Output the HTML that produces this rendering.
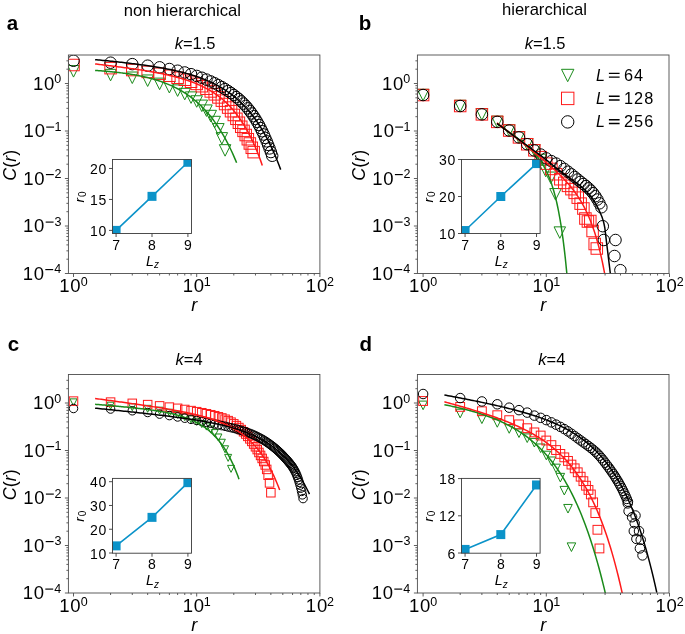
<!DOCTYPE html>
<html><head><meta charset="utf-8"><style>html,body{margin:0;padding:0;background:#fff;}svg{display:block;will-change:transform;}</style></head>
<body><svg width="685" height="634" viewBox="0 0 685 634" font-family='"Liberation Sans", sans-serif'><clipPath id="clipa"><rect x="68.40" y="55.00" width="251.50" height="218.50"/></clipPath>
<g clip-path="url(#clipa)">
<path d="M67.75,65.59H79.25L73.50,77.09Z" fill="none" stroke="#1a8a1a" stroke-width="1.0" stroke-linejoin="miter"/>
<path d="M104.84,69.35H116.34L110.59,80.85Z" fill="none" stroke="#1a8a1a" stroke-width="1.0" stroke-linejoin="miter"/>
<path d="M126.53,72.03H138.03L132.28,83.53Z" fill="none" stroke="#1a8a1a" stroke-width="1.0" stroke-linejoin="miter"/>
<path d="M141.92,74.96H153.42L147.67,86.46Z" fill="none" stroke="#1a8a1a" stroke-width="1.0" stroke-linejoin="miter"/>
<path d="M153.86,78.14H165.36L159.61,89.64Z" fill="none" stroke="#1a8a1a" stroke-width="1.0" stroke-linejoin="miter"/>
<path d="M163.62,81.47H175.12L169.37,92.97Z" fill="none" stroke="#1a8a1a" stroke-width="1.0" stroke-linejoin="miter"/>
<path d="M171.87,84.89H183.37L177.62,96.39Z" fill="none" stroke="#1a8a1a" stroke-width="1.0" stroke-linejoin="miter"/>
<path d="M179.01,88.34H190.51L184.76,99.84Z" fill="none" stroke="#1a8a1a" stroke-width="1.0" stroke-linejoin="miter"/>
<path d="M185.31,91.88H196.81L191.06,103.38Z" fill="none" stroke="#1a8a1a" stroke-width="1.0" stroke-linejoin="miter"/>
<path d="M190.95,95.75H202.45L196.70,107.25Z" fill="none" stroke="#1a8a1a" stroke-width="1.0" stroke-linejoin="miter"/>
<path d="M196.05,100.07H207.55L201.80,111.57Z" fill="none" stroke="#1a8a1a" stroke-width="1.0" stroke-linejoin="miter"/>
<path d="M200.71,104.92H212.21L206.46,116.42Z" fill="none" stroke="#1a8a1a" stroke-width="1.0" stroke-linejoin="miter"/>
<path d="M204.99,110.30H216.49L210.74,121.80Z" fill="none" stroke="#1a8a1a" stroke-width="1.0" stroke-linejoin="miter"/>
<path d="M208.95,116.30H220.45L214.70,127.80Z" fill="none" stroke="#1a8a1a" stroke-width="1.0" stroke-linejoin="miter"/>
<path d="M212.64,123.57H224.14L218.39,135.07Z" fill="none" stroke="#1a8a1a" stroke-width="1.0" stroke-linejoin="miter"/>
<path d="M216.10,132.62H227.60L221.85,144.12Z" fill="none" stroke="#1a8a1a" stroke-width="1.0" stroke-linejoin="miter"/>
<path d="M219.34,144.67H230.84L225.09,156.17Z" fill="none" stroke="#1a8a1a" stroke-width="1.0" stroke-linejoin="miter"/>
<rect x="67.75" y="59.26" width="11.50" height="11.50" fill="none" stroke="#ff1a1a" stroke-width="1.0"/>
<rect x="104.84" y="62.40" width="11.50" height="11.50" fill="none" stroke="#ff1a1a" stroke-width="1.0"/>
<rect x="126.53" y="64.29" width="11.50" height="11.50" fill="none" stroke="#ff1a1a" stroke-width="1.0"/>
<rect x="141.92" y="66.15" width="11.50" height="11.50" fill="none" stroke="#ff1a1a" stroke-width="1.0"/>
<rect x="153.86" y="68.06" width="11.50" height="11.50" fill="none" stroke="#ff1a1a" stroke-width="1.0"/>
<rect x="163.62" y="70.02" width="11.50" height="11.50" fill="none" stroke="#ff1a1a" stroke-width="1.0"/>
<rect x="171.87" y="72.00" width="11.50" height="11.50" fill="none" stroke="#ff1a1a" stroke-width="1.0"/>
<rect x="179.01" y="73.99" width="11.50" height="11.50" fill="none" stroke="#ff1a1a" stroke-width="1.0"/>
<rect x="185.31" y="76.01" width="11.50" height="11.50" fill="none" stroke="#ff1a1a" stroke-width="1.0"/>
<rect x="190.95" y="78.15" width="11.50" height="11.50" fill="none" stroke="#ff1a1a" stroke-width="1.0"/>
<rect x="196.05" y="80.46" width="11.50" height="11.50" fill="none" stroke="#ff1a1a" stroke-width="1.0"/>
<rect x="200.71" y="82.97" width="11.50" height="11.50" fill="none" stroke="#ff1a1a" stroke-width="1.0"/>
<rect x="204.99" y="85.68" width="11.50" height="11.50" fill="none" stroke="#ff1a1a" stroke-width="1.0"/>
<rect x="208.95" y="88.58" width="11.50" height="11.50" fill="none" stroke="#ff1a1a" stroke-width="1.0"/>
<rect x="212.64" y="91.65" width="11.50" height="11.50" fill="none" stroke="#ff1a1a" stroke-width="1.0"/>
<rect x="216.10" y="94.89" width="11.50" height="11.50" fill="none" stroke="#ff1a1a" stroke-width="1.0"/>
<rect x="219.34" y="98.28" width="11.50" height="11.50" fill="none" stroke="#ff1a1a" stroke-width="1.0"/>
<rect x="222.40" y="101.81" width="11.50" height="11.50" fill="none" stroke="#ff1a1a" stroke-width="1.0"/>
<rect x="225.29" y="105.45" width="11.50" height="11.50" fill="none" stroke="#ff1a1a" stroke-width="1.0"/>
<rect x="228.04" y="109.21" width="11.50" height="11.50" fill="none" stroke="#ff1a1a" stroke-width="1.0"/>
<rect x="230.65" y="113.06" width="11.50" height="11.50" fill="none" stroke="#ff1a1a" stroke-width="1.0"/>
<rect x="233.14" y="117.00" width="11.50" height="11.50" fill="none" stroke="#ff1a1a" stroke-width="1.0"/>
<rect x="235.51" y="121.02" width="11.50" height="11.50" fill="none" stroke="#ff1a1a" stroke-width="1.0"/>
<rect x="237.79" y="125.11" width="11.50" height="11.50" fill="none" stroke="#ff1a1a" stroke-width="1.0"/>
<rect x="239.98" y="129.27" width="11.50" height="11.50" fill="none" stroke="#ff1a1a" stroke-width="1.0"/>
<rect x="242.07" y="133.48" width="11.50" height="11.50" fill="none" stroke="#ff1a1a" stroke-width="1.0"/>
<rect x="244.09" y="137.74" width="11.50" height="11.50" fill="none" stroke="#ff1a1a" stroke-width="1.0"/>
<rect x="246.04" y="142.04" width="11.50" height="11.50" fill="none" stroke="#ff1a1a" stroke-width="1.0"/>
<rect x="247.92" y="146.39" width="11.50" height="11.50" fill="none" stroke="#ff1a1a" stroke-width="1.0"/>
<circle cx="73.50" cy="60.76" r="5.75" fill="none" stroke="#000000" stroke-width="1.0"/>
<circle cx="110.59" cy="62.70" r="5.75" fill="none" stroke="#000000" stroke-width="1.0"/>
<circle cx="132.28" cy="64.14" r="5.75" fill="none" stroke="#000000" stroke-width="1.0"/>
<circle cx="147.67" cy="65.68" r="5.75" fill="none" stroke="#000000" stroke-width="1.0"/>
<circle cx="159.61" cy="67.32" r="5.75" fill="none" stroke="#000000" stroke-width="1.0"/>
<circle cx="169.37" cy="69.01" r="5.75" fill="none" stroke="#000000" stroke-width="1.0"/>
<circle cx="177.62" cy="70.73" r="5.75" fill="none" stroke="#000000" stroke-width="1.0"/>
<circle cx="184.76" cy="72.46" r="5.75" fill="none" stroke="#000000" stroke-width="1.0"/>
<circle cx="191.06" cy="74.19" r="5.75" fill="none" stroke="#000000" stroke-width="1.0"/>
<circle cx="196.70" cy="75.95" r="5.75" fill="none" stroke="#000000" stroke-width="1.0"/>
<circle cx="201.80" cy="77.73" r="5.75" fill="none" stroke="#000000" stroke-width="1.0"/>
<circle cx="206.46" cy="79.55" r="5.75" fill="none" stroke="#000000" stroke-width="1.0"/>
<circle cx="210.74" cy="81.41" r="5.75" fill="none" stroke="#000000" stroke-width="1.0"/>
<circle cx="214.70" cy="83.29" r="5.75" fill="none" stroke="#000000" stroke-width="1.0"/>
<circle cx="218.39" cy="85.20" r="5.75" fill="none" stroke="#000000" stroke-width="1.0"/>
<circle cx="221.85" cy="87.14" r="5.75" fill="none" stroke="#000000" stroke-width="1.0"/>
<circle cx="225.09" cy="89.09" r="5.75" fill="none" stroke="#000000" stroke-width="1.0"/>
<circle cx="228.15" cy="91.06" r="5.75" fill="none" stroke="#000000" stroke-width="1.0"/>
<circle cx="231.04" cy="93.05" r="5.75" fill="none" stroke="#000000" stroke-width="1.0"/>
<circle cx="233.79" cy="95.05" r="5.75" fill="none" stroke="#000000" stroke-width="1.0"/>
<circle cx="236.40" cy="97.08" r="5.75" fill="none" stroke="#000000" stroke-width="1.0"/>
<circle cx="238.89" cy="99.17" r="5.75" fill="none" stroke="#000000" stroke-width="1.0"/>
<circle cx="241.26" cy="101.34" r="5.75" fill="none" stroke="#000000" stroke-width="1.0"/>
<circle cx="243.54" cy="103.58" r="5.75" fill="none" stroke="#000000" stroke-width="1.0"/>
<circle cx="245.73" cy="105.92" r="5.75" fill="none" stroke="#000000" stroke-width="1.0"/>
<circle cx="247.82" cy="108.35" r="5.75" fill="none" stroke="#000000" stroke-width="1.0"/>
<circle cx="249.84" cy="110.88" r="5.75" fill="none" stroke="#000000" stroke-width="1.0"/>
<circle cx="251.79" cy="113.51" r="5.75" fill="none" stroke="#000000" stroke-width="1.0"/>
<circle cx="253.67" cy="116.23" r="5.75" fill="none" stroke="#000000" stroke-width="1.0"/>
<circle cx="255.48" cy="119.05" r="5.75" fill="none" stroke="#000000" stroke-width="1.0"/>
<circle cx="257.24" cy="121.97" r="5.75" fill="none" stroke="#000000" stroke-width="1.0"/>
<circle cx="258.93" cy="124.98" r="5.75" fill="none" stroke="#000000" stroke-width="1.0"/>
<circle cx="260.58" cy="128.08" r="5.75" fill="none" stroke="#000000" stroke-width="1.0"/>
<circle cx="262.18" cy="131.26" r="5.75" fill="none" stroke="#000000" stroke-width="1.0"/>
<circle cx="263.73" cy="134.53" r="5.75" fill="none" stroke="#000000" stroke-width="1.0"/>
<circle cx="265.24" cy="137.89" r="5.75" fill="none" stroke="#000000" stroke-width="1.0"/>
<circle cx="266.70" cy="141.32" r="5.75" fill="none" stroke="#000000" stroke-width="1.0"/>
<circle cx="268.13" cy="144.83" r="5.75" fill="none" stroke="#000000" stroke-width="1.0"/>
<circle cx="269.52" cy="148.41" r="5.75" fill="none" stroke="#000000" stroke-width="1.0"/>
<circle cx="270.87" cy="152.06" r="5.75" fill="none" stroke="#000000" stroke-width="1.0"/>
<circle cx="272.19" cy="155.78" r="5.75" fill="none" stroke="#000000" stroke-width="1.0"/>
<polyline points="95.10,70.45 96.29,70.53 97.48,70.61 98.67,70.69 99.86,70.78 101.05,70.87 102.23,70.96 103.42,71.06 104.61,71.15 105.80,71.25 106.99,71.36 108.18,71.46 109.37,71.57 110.56,71.69 111.75,71.80 112.94,71.93 114.13,72.05 115.31,72.18 116.50,72.31 117.69,72.44 118.88,72.58 120.07,72.73 121.26,72.88 122.45,73.03 123.64,73.19 124.83,73.35 126.02,73.51 127.21,73.69 128.39,73.86 129.58,74.05 130.77,74.24 131.96,74.43 133.15,74.63 134.34,74.84 135.53,75.05 136.72,75.27 137.91,75.49 139.10,75.73 140.28,75.97 141.47,76.21 142.66,76.47 143.85,76.73 145.04,77.00 146.23,77.28 147.42,77.57 148.61,77.87 149.80,78.17 150.99,78.49 152.18,78.81 153.36,79.15 154.55,79.49 155.74,79.85 156.93,80.22 158.12,80.59 159.31,80.98 160.50,81.39 161.69,81.80 162.88,82.23 164.07,82.67 165.26,83.12 166.44,83.59 167.63,84.08 168.82,84.57 170.01,85.09 171.20,85.62 172.39,86.16 173.58,86.73 174.77,87.31 175.96,87.90 177.15,88.52 178.34,89.16 179.52,89.81 180.71,90.49 181.90,91.18 183.09,91.90 184.28,92.64 185.47,93.41 186.66,94.20 187.85,95.01 189.04,95.85 190.23,96.71 191.42,97.60 192.60,98.52 193.79,99.47 194.98,100.44 196.17,101.45 197.36,102.49 198.55,103.56 199.74,104.66 200.93,105.80 202.12,106.97 203.31,108.18 204.49,109.43 205.68,110.72 206.87,112.05 208.06,113.42 209.25,114.83 210.44,116.28 211.63,117.78 212.82,119.33 214.01,120.92 215.20,122.57 216.39,124.27 217.57,126.02 218.76,127.82 219.95,129.68 221.14,131.60 222.33,133.58 223.52,135.62 224.71,137.72 225.90,139.89 227.09,142.13 228.28,144.43 229.47,146.81 230.65,149.27 231.84,151.80 233.03,154.40 234.22,157.09 235.41,159.87 236.60,162.73" fill="none" stroke="#1a8a1a" stroke-width="1.5" stroke-linejoin="round"/>
<polyline points="95.10,63.95 96.51,64.11 97.91,64.28 99.32,64.45 100.72,64.62 102.13,64.79 103.53,64.96 104.94,65.13 106.34,65.30 107.75,65.48 109.15,65.65 110.56,65.83 111.96,66.00 113.37,66.18 114.77,66.36 116.18,66.54 117.58,66.72 118.99,66.91 120.39,67.09 121.80,67.28 123.20,67.46 124.61,67.65 126.01,67.85 127.42,68.04 128.82,68.23 130.23,68.43 131.63,68.63 133.04,68.83 134.44,69.04 135.85,69.24 137.25,69.45 138.66,69.67 140.06,69.88 141.47,70.10 142.87,70.32 144.28,70.55 145.68,70.78 147.09,71.01 148.49,71.24 149.90,71.48 151.30,71.73 152.71,71.98 154.11,72.23 155.52,72.49 156.92,72.75 158.33,73.02 159.73,73.30 161.14,73.58 162.54,73.86 163.95,74.16 165.35,74.46 166.76,74.77 168.16,75.08 169.57,75.40 170.97,75.73 172.38,76.07 173.78,76.42 175.19,76.78 176.59,77.15 178.00,77.53 179.40,77.92 180.81,78.32 182.21,78.73 183.62,79.16 185.02,79.60 186.43,80.05 187.83,80.52 189.24,81.00 190.64,81.50 192.05,82.02 193.45,82.55 194.86,83.10 196.26,83.67 197.67,84.26 199.07,84.88 200.48,85.51 201.88,86.17 203.29,86.85 204.69,87.56 206.10,88.30 207.50,89.06 208.91,89.85 210.31,90.68 211.72,91.53 213.12,92.42 214.53,93.35 215.93,94.31 217.34,95.32 218.74,96.36 220.15,97.45 221.55,98.58 222.96,99.76 224.36,100.99 225.77,102.27 227.17,103.61 228.58,105.00 229.98,106.46 231.39,107.98 232.79,109.56 234.20,111.21 235.60,112.94 237.01,114.74 238.41,116.62 239.82,118.58 241.22,120.64 242.63,122.78 244.03,125.02 245.44,127.36 246.84,129.81 248.25,132.37 249.65,135.05 251.06,137.84 252.46,140.77 253.87,143.83 255.27,147.03 256.68,150.37 258.08,153.88 259.49,157.54 260.89,161.38 262.30,165.39" fill="none" stroke="#ff1a1a" stroke-width="1.5" stroke-linejoin="round"/>
<polyline points="95.10,59.63 96.66,59.78 98.22,59.93 99.78,60.08 101.34,60.23 102.90,60.39 104.46,60.54 106.02,60.70 107.58,60.86 109.14,61.02 110.70,61.18 112.26,61.34 113.82,61.51 115.38,61.67 116.94,61.84 118.49,62.01 120.05,62.19 121.61,62.36 123.17,62.54 124.73,62.72 126.29,62.90 127.85,63.08 129.41,63.27 130.97,63.46 132.53,63.65 134.09,63.84 135.65,64.04 137.21,64.24 138.77,64.45 140.33,64.65 141.89,64.87 143.45,65.08 145.01,65.30 146.57,65.52 148.13,65.75 149.69,65.98 151.25,66.22 152.81,66.46 154.37,66.71 155.93,66.96 157.49,67.22 159.05,67.49 160.61,67.76 162.17,68.04 163.73,68.32 165.28,68.61 166.84,68.91 168.40,69.21 169.96,69.53 171.52,69.85 173.08,70.18 174.64,70.52 176.20,70.87 177.76,71.23 179.32,71.60 180.88,71.98 182.44,72.37 184.00,72.77 185.56,73.19 187.12,73.62 188.68,74.06 190.24,74.51 191.80,74.98 193.36,75.47 194.92,75.97 196.48,76.49 198.04,77.02 199.60,77.58 201.16,78.15 202.72,78.74 204.28,79.36 205.84,79.99 207.40,80.65 208.96,81.33 210.52,82.03 212.07,82.76 213.63,83.52 215.19,84.30 216.75,85.12 218.31,85.96 219.87,86.84 221.43,87.75 222.99,88.69 224.55,89.67 226.11,90.69 227.67,91.75 229.23,92.84 230.79,93.98 232.35,95.17 233.91,96.40 235.47,97.68 237.03,99.02 238.59,100.40 240.15,101.84 241.71,103.34 243.27,104.90 244.83,106.53 246.39,108.21 247.95,109.97 249.51,111.80 251.07,113.71 252.63,115.69 254.19,117.76 255.75,119.91 257.31,122.15 258.86,124.49 260.42,126.92 261.98,129.45 263.54,132.09 265.10,134.84 266.66,137.71 268.22,140.69 269.78,143.81 271.34,147.05 272.90,150.44 274.46,153.96 276.02,157.64 277.58,161.47 279.14,165.47 280.70,169.63" fill="none" stroke="#000000" stroke-width="1.5" stroke-linejoin="round"/>
</g>
<clipPath id="clipb"><rect x="417.40" y="55.00" width="251.60" height="218.50"/></clipPath>
<g clip-path="url(#clipb)">
<path d="M417.35,89.29H428.85L423.10,100.79Z" fill="none" stroke="#1a8a1a" stroke-width="1.0" stroke-linejoin="miter"/>
<path d="M454.44,100.25H465.94L460.19,111.75Z" fill="none" stroke="#1a8a1a" stroke-width="1.0" stroke-linejoin="miter"/>
<path d="M476.13,108.61H487.63L481.88,120.11Z" fill="none" stroke="#1a8a1a" stroke-width="1.0" stroke-linejoin="miter"/>
<path d="M491.52,116.11H503.02L497.27,127.61Z" fill="none" stroke="#1a8a1a" stroke-width="1.0" stroke-linejoin="miter"/>
<path d="M503.46,124.78H514.96L509.21,136.28Z" fill="none" stroke="#1a8a1a" stroke-width="1.0" stroke-linejoin="miter"/>
<path d="M513.22,131.63H524.72L518.97,143.13Z" fill="none" stroke="#1a8a1a" stroke-width="1.0" stroke-linejoin="miter"/>
<path d="M521.47,138.49H532.97L527.22,149.99Z" fill="none" stroke="#1a8a1a" stroke-width="1.0" stroke-linejoin="miter"/>
<path d="M528.61,144.61H540.11L534.36,156.11Z" fill="none" stroke="#1a8a1a" stroke-width="1.0" stroke-linejoin="miter"/>
<path d="M534.85,154.25H546.35L540.60,165.75Z" fill="none" stroke="#1a8a1a" stroke-width="1.0" stroke-linejoin="miter"/>
<path d="M539.95,165.25H551.45L545.70,176.75Z" fill="none" stroke="#1a8a1a" stroke-width="1.0" stroke-linejoin="miter"/>
<path d="M545.05,172.05H556.55L550.80,183.55Z" fill="none" stroke="#1a8a1a" stroke-width="1.0" stroke-linejoin="miter"/>
<path d="M549.75,188.55H561.25L555.50,200.05Z" fill="none" stroke="#1a8a1a" stroke-width="1.0" stroke-linejoin="miter"/>
<path d="M554.05,226.85H565.55L559.80,238.35Z" fill="none" stroke="#1a8a1a" stroke-width="1.0" stroke-linejoin="miter"/>
<rect x="417.35" y="89.29" width="11.50" height="11.50" fill="none" stroke="#ff1a1a" stroke-width="1.0"/>
<rect x="454.44" y="100.25" width="11.50" height="11.50" fill="none" stroke="#ff1a1a" stroke-width="1.0"/>
<rect x="476.13" y="108.61" width="11.50" height="11.50" fill="none" stroke="#ff1a1a" stroke-width="1.0"/>
<rect x="491.52" y="116.11" width="11.50" height="11.50" fill="none" stroke="#ff1a1a" stroke-width="1.0"/>
<rect x="503.46" y="124.78" width="11.50" height="11.50" fill="none" stroke="#ff1a1a" stroke-width="1.0"/>
<rect x="513.22" y="131.63" width="11.50" height="11.50" fill="none" stroke="#ff1a1a" stroke-width="1.0"/>
<rect x="521.47" y="138.49" width="11.50" height="11.50" fill="none" stroke="#ff1a1a" stroke-width="1.0"/>
<rect x="528.61" y="144.55" width="11.50" height="11.50" fill="none" stroke="#ff1a1a" stroke-width="1.0"/>
<rect x="534.91" y="151.41" width="11.50" height="11.50" fill="none" stroke="#ff1a1a" stroke-width="1.0"/>
<rect x="540.55" y="157.89" width="11.50" height="11.50" fill="none" stroke="#ff1a1a" stroke-width="1.0"/>
<rect x="545.65" y="163.17" width="11.50" height="11.50" fill="none" stroke="#ff1a1a" stroke-width="1.0"/>
<rect x="550.31" y="168.48" width="11.50" height="11.50" fill="none" stroke="#ff1a1a" stroke-width="1.0"/>
<rect x="554.59" y="173.46" width="11.50" height="11.50" fill="none" stroke="#ff1a1a" stroke-width="1.0"/>
<rect x="558.55" y="177.12" width="11.50" height="11.50" fill="none" stroke="#ff1a1a" stroke-width="1.0"/>
<rect x="562.24" y="180.11" width="11.50" height="11.50" fill="none" stroke="#ff1a1a" stroke-width="1.0"/>
<rect x="565.70" y="183.42" width="11.50" height="11.50" fill="none" stroke="#ff1a1a" stroke-width="1.0"/>
<rect x="568.94" y="187.12" width="11.50" height="11.50" fill="none" stroke="#ff1a1a" stroke-width="1.0"/>
<rect x="572.00" y="191.91" width="11.50" height="11.50" fill="none" stroke="#ff1a1a" stroke-width="1.0"/>
<rect x="574.89" y="197.89" width="11.50" height="11.50" fill="none" stroke="#ff1a1a" stroke-width="1.0"/>
<rect x="577.64" y="202.75" width="11.50" height="11.50" fill="none" stroke="#ff1a1a" stroke-width="1.0"/>
<rect x="579.65" y="212.75" width="11.50" height="11.50" fill="none" stroke="#ff1a1a" stroke-width="1.0"/>
<rect x="582.15" y="215.75" width="11.50" height="11.50" fill="none" stroke="#ff1a1a" stroke-width="1.0"/>
<rect x="584.55" y="215.25" width="11.50" height="11.50" fill="none" stroke="#ff1a1a" stroke-width="1.0"/>
<rect x="586.85" y="225.25" width="11.50" height="11.50" fill="none" stroke="#ff1a1a" stroke-width="1.0"/>
<rect x="588.95" y="238.25" width="11.50" height="11.50" fill="none" stroke="#ff1a1a" stroke-width="1.0"/>
<rect x="591.05" y="242.75" width="11.50" height="11.50" fill="none" stroke="#ff1a1a" stroke-width="1.0"/>
<circle cx="423.10" cy="95.04" r="5.75" fill="none" stroke="#000000" stroke-width="1.0"/>
<circle cx="460.19" cy="106.00" r="5.75" fill="none" stroke="#000000" stroke-width="1.0"/>
<circle cx="481.88" cy="114.36" r="5.75" fill="none" stroke="#000000" stroke-width="1.0"/>
<circle cx="497.27" cy="121.86" r="5.75" fill="none" stroke="#000000" stroke-width="1.0"/>
<circle cx="509.21" cy="130.53" r="5.75" fill="none" stroke="#000000" stroke-width="1.0"/>
<circle cx="518.97" cy="137.38" r="5.75" fill="none" stroke="#000000" stroke-width="1.0"/>
<circle cx="527.22" cy="144.24" r="5.75" fill="none" stroke="#000000" stroke-width="1.0"/>
<circle cx="534.36" cy="150.45" r="5.75" fill="none" stroke="#000000" stroke-width="1.0"/>
<circle cx="540.66" cy="154.54" r="5.75" fill="none" stroke="#000000" stroke-width="1.0"/>
<circle cx="546.30" cy="158.36" r="5.75" fill="none" stroke="#000000" stroke-width="1.0"/>
<circle cx="551.40" cy="161.13" r="5.75" fill="none" stroke="#000000" stroke-width="1.0"/>
<circle cx="556.06" cy="163.54" r="5.75" fill="none" stroke="#000000" stroke-width="1.0"/>
<circle cx="560.34" cy="166.13" r="5.75" fill="none" stroke="#000000" stroke-width="1.0"/>
<circle cx="564.30" cy="168.92" r="5.75" fill="none" stroke="#000000" stroke-width="1.0"/>
<circle cx="567.99" cy="171.71" r="5.75" fill="none" stroke="#000000" stroke-width="1.0"/>
<circle cx="571.45" cy="174.37" r="5.75" fill="none" stroke="#000000" stroke-width="1.0"/>
<circle cx="574.69" cy="177.00" r="5.75" fill="none" stroke="#000000" stroke-width="1.0"/>
<circle cx="577.75" cy="179.52" r="5.75" fill="none" stroke="#000000" stroke-width="1.0"/>
<circle cx="580.64" cy="181.87" r="5.75" fill="none" stroke="#000000" stroke-width="1.0"/>
<circle cx="583.39" cy="183.99" r="5.75" fill="none" stroke="#000000" stroke-width="1.0"/>
<circle cx="586.00" cy="186.08" r="5.75" fill="none" stroke="#000000" stroke-width="1.0"/>
<circle cx="588.49" cy="188.30" r="5.75" fill="none" stroke="#000000" stroke-width="1.0"/>
<circle cx="590.86" cy="190.62" r="5.75" fill="none" stroke="#000000" stroke-width="1.0"/>
<circle cx="593.14" cy="193.20" r="5.75" fill="none" stroke="#000000" stroke-width="1.0"/>
<circle cx="595.33" cy="196.18" r="5.75" fill="none" stroke="#000000" stroke-width="1.0"/>
<circle cx="597.42" cy="199.51" r="5.75" fill="none" stroke="#000000" stroke-width="1.0"/>
<circle cx="599.44" cy="203.32" r="5.75" fill="none" stroke="#000000" stroke-width="1.0"/>
<circle cx="601.39" cy="207.28" r="5.75" fill="none" stroke="#000000" stroke-width="1.0"/>
<circle cx="602.80" cy="226.20" r="5.75" fill="none" stroke="#000000" stroke-width="1.0"/>
<circle cx="603.80" cy="240.00" r="5.75" fill="none" stroke="#000000" stroke-width="1.0"/>
<circle cx="614.50" cy="256.00" r="5.75" fill="none" stroke="#000000" stroke-width="1.0"/>
<circle cx="615.50" cy="240.00" r="5.75" fill="none" stroke="#000000" stroke-width="1.0"/>
<circle cx="620.40" cy="270.20" r="5.75" fill="none" stroke="#000000" stroke-width="1.0"/>
<polyline points="497.00,123.61 497.59,124.02 498.18,124.42 498.76,124.83 499.35,125.24 499.94,125.65 500.53,126.05 501.12,126.46 501.71,126.87 502.29,127.28 502.88,127.69 503.47,128.10 504.06,128.52 504.65,128.93 505.24,129.34 505.82,129.76 506.41,130.17 507.00,130.59 507.59,131.01 508.18,131.43 508.76,131.85 509.35,132.27 509.94,132.69 510.53,133.11 511.12,133.54 511.71,133.96 512.29,134.39 512.88,134.82 513.47,135.25 514.06,135.69 514.65,136.12 515.24,136.56 515.82,137.00 516.41,137.44 517.00,137.89 517.59,138.33 518.18,138.78 518.76,139.24 519.35,139.69 519.94,140.15 520.53,140.62 521.12,141.08 521.71,141.55 522.29,142.03 522.88,142.51 523.47,142.99 524.06,143.48 524.65,143.98 525.24,144.48 525.82,144.98 526.41,145.50 527.00,146.02 527.59,146.54 528.18,147.08 528.76,147.62 529.35,148.17 529.94,148.73 530.53,149.29 531.12,149.87 531.71,150.46 532.29,151.06 532.88,151.67 533.47,152.30 534.06,152.93 534.65,153.58 535.24,154.25 535.82,154.93 536.41,155.63 537.00,156.34 537.59,157.08 538.18,157.83 538.76,158.60 539.35,159.40 539.94,160.22 540.53,161.06 541.12,161.93 541.71,162.83 542.29,163.76 542.88,164.71 543.47,165.71 544.06,166.73 544.65,167.79 545.24,168.89 545.82,170.04 546.41,171.22 547.00,172.45 547.59,173.73 548.18,175.06 548.76,176.45 549.35,177.90 549.94,179.40 550.53,180.97 551.12,182.61 551.71,184.32 552.29,186.11 552.88,187.98 553.47,189.94 554.06,191.99 554.65,194.13 555.24,196.38 555.82,198.73 556.41,201.20 557.00,203.79 557.59,206.51 558.18,209.37 558.76,212.37 559.35,215.52 559.94,218.84 560.53,222.32 561.12,225.99 561.71,229.84 562.29,233.90 562.88,238.18 563.47,242.68 564.06,247.42 564.65,252.41 565.24,257.68 565.82,263.23 566.41,269.08 567.00,275.26" fill="none" stroke="#1a8a1a" stroke-width="1.5" stroke-linejoin="round"/>
<polyline points="497.00,122.85 497.91,123.56 498.81,124.28 499.72,124.99 500.63,125.70 501.53,126.41 502.44,127.12 503.35,127.83 504.25,128.55 505.16,129.26 506.07,129.97 506.97,130.68 507.88,131.40 508.79,132.11 509.69,132.82 510.60,133.54 511.51,134.25 512.41,134.97 513.32,135.68 514.23,136.40 515.13,137.12 516.04,137.83 516.95,138.55 517.85,139.27 518.76,139.99 519.67,140.71 520.57,141.43 521.48,142.15 522.39,142.87 523.29,143.60 524.20,144.32 525.11,145.04 526.02,145.77 526.92,146.50 527.83,147.23 528.74,147.96 529.64,148.69 530.55,149.42 531.46,150.15 532.36,150.89 533.27,151.63 534.18,152.37 535.08,153.11 535.99,153.85 536.90,154.60 537.80,155.34 538.71,156.09 539.62,156.85 540.52,157.60 541.43,158.36 542.34,159.13 543.24,159.89 544.15,160.66 545.06,161.44 545.96,162.22 546.87,163.00 547.78,163.79 548.68,164.58 549.59,165.38 550.50,166.18 551.40,166.99 552.31,167.81 553.22,168.63 554.12,169.47 555.03,170.30 555.94,171.15 556.84,172.01 557.75,172.88 558.66,173.75 559.56,174.64 560.47,175.54 561.38,176.45 562.28,177.38 563.19,178.32 564.10,179.27 565.00,180.24 565.91,181.23 566.82,182.23 567.72,183.25 568.63,184.30 569.54,185.36 570.44,186.45 571.35,187.57 572.26,188.71 573.16,189.87 574.07,191.07 574.98,192.30 575.88,193.56 576.79,194.86 577.70,196.20 578.61,197.58 579.51,199.00 580.42,200.46 581.33,201.98 582.23,203.55 583.14,205.17 584.05,206.86 584.95,208.60 585.86,210.41 586.77,212.30 587.67,214.26 588.58,216.30 589.49,218.43 590.39,220.65 591.30,222.97 592.21,225.39 593.11,227.92 594.02,230.57 594.93,233.35 595.83,236.26 596.74,239.31 597.65,242.51 598.55,245.88 599.46,249.42 600.37,253.14 601.27,257.05 602.18,261.17 603.09,265.52 603.99,270.10 604.90,274.93" fill="none" stroke="#ff1a1a" stroke-width="1.5" stroke-linejoin="round"/>
<polyline points="497.00,123.40 497.95,124.10 498.91,124.81 499.86,125.51 500.82,126.22 501.77,126.92 502.72,127.63 503.68,128.33 504.63,129.04 505.58,129.74 506.54,130.45 507.49,131.15 508.45,131.86 509.40,132.56 510.35,133.27 511.31,133.97 512.26,134.68 513.21,135.38 514.17,136.09 515.12,136.79 516.08,137.50 517.03,138.20 517.98,138.91 518.94,139.61 519.89,140.32 520.84,141.02 521.80,141.73 522.75,142.43 523.71,143.13 524.66,143.82 525.61,144.52 526.57,145.22 527.52,145.91 528.47,146.61 529.43,147.30 530.38,148.00 531.34,148.69 532.29,149.39 533.24,150.09 534.20,150.79 535.15,151.49 536.11,152.20 537.06,152.90 538.01,153.61 538.97,154.32 539.92,155.03 540.87,155.75 541.83,156.47 542.78,157.20 543.74,157.93 544.69,158.66 545.64,159.40 546.60,160.15 547.55,160.91 548.50,161.68 549.46,162.45 550.41,163.23 551.37,164.00 552.32,164.78 553.27,165.56 554.23,166.33 555.18,167.10 556.13,167.85 557.09,168.60 558.04,169.34 559.00,170.07 559.95,170.79 560.90,171.51 561.86,172.22 562.81,172.93 563.76,173.64 564.72,174.34 565.67,175.04 566.63,175.75 567.58,176.45 568.53,177.16 569.49,177.87 570.44,178.58 571.39,179.28 572.35,179.97 573.30,180.64 574.26,181.32 575.21,181.99 576.16,182.66 577.12,183.35 578.07,184.05 579.03,184.77 579.98,185.51 580.93,186.28 581.89,187.09 582.84,187.94 583.79,188.82 584.75,189.72 585.70,190.66 586.66,191.64 587.61,192.65 588.56,193.71 589.52,194.82 590.47,195.98 591.42,197.20 592.38,198.47 593.33,199.82 594.29,201.27 595.24,202.84 596.19,204.52 597.15,206.32 598.10,208.24 599.05,210.28 600.01,212.37 600.96,214.49 601.92,216.84 602.87,219.62 603.82,223.01 604.78,227.70 605.73,235.41 606.68,243.48 607.64,251.23 608.59,259.11 609.55,267.02 610.50,275.00" fill="none" stroke="#000000" stroke-width="1.5" stroke-linejoin="round"/>
</g>
<clipPath id="clipc"><rect x="68.40" y="374.50" width="251.50" height="218.50"/></clipPath>
<g clip-path="url(#clipc)">
<path d="M70.00,398.89H77.00L73.50,405.89Z" fill="none" stroke="#1a8a1a" stroke-width="1.0" stroke-linejoin="miter"/>
<path d="M107.09,402.18H114.09L110.59,409.18Z" fill="none" stroke="#1a8a1a" stroke-width="1.0" stroke-linejoin="miter"/>
<path d="M128.78,403.71H135.78L132.28,410.71Z" fill="none" stroke="#1a8a1a" stroke-width="1.0" stroke-linejoin="miter"/>
<path d="M144.17,405.35H151.17L147.67,412.35Z" fill="none" stroke="#1a8a1a" stroke-width="1.0" stroke-linejoin="miter"/>
<path d="M156.11,407.20H163.11L159.61,414.20Z" fill="none" stroke="#1a8a1a" stroke-width="1.0" stroke-linejoin="miter"/>
<path d="M165.87,409.24H172.87L169.37,416.24Z" fill="none" stroke="#1a8a1a" stroke-width="1.0" stroke-linejoin="miter"/>
<path d="M174.12,411.39H181.12L177.62,418.39Z" fill="none" stroke="#1a8a1a" stroke-width="1.0" stroke-linejoin="miter"/>
<path d="M181.26,413.64H188.26L184.76,420.64Z" fill="none" stroke="#1a8a1a" stroke-width="1.0" stroke-linejoin="miter"/>
<path d="M187.56,415.93H194.56L191.06,422.93Z" fill="none" stroke="#1a8a1a" stroke-width="1.0" stroke-linejoin="miter"/>
<path d="M193.20,418.26H200.20L196.70,425.26Z" fill="none" stroke="#1a8a1a" stroke-width="1.0" stroke-linejoin="miter"/>
<path d="M198.30,420.61H205.30L201.80,427.61Z" fill="none" stroke="#1a8a1a" stroke-width="1.0" stroke-linejoin="miter"/>
<path d="M202.96,423.08H209.96L206.46,430.08Z" fill="none" stroke="#1a8a1a" stroke-width="1.0" stroke-linejoin="miter"/>
<path d="M207.24,426.00H214.24L210.74,433.00Z" fill="none" stroke="#1a8a1a" stroke-width="1.0" stroke-linejoin="miter"/>
<path d="M211.20,429.60H218.20L214.70,436.60Z" fill="none" stroke="#1a8a1a" stroke-width="1.0" stroke-linejoin="miter"/>
<path d="M214.89,433.98H221.89L218.39,440.98Z" fill="none" stroke="#1a8a1a" stroke-width="1.0" stroke-linejoin="miter"/>
<path d="M218.35,439.23H225.35L221.85,446.23Z" fill="none" stroke="#1a8a1a" stroke-width="1.0" stroke-linejoin="miter"/>
<path d="M221.59,445.79H228.59L225.09,452.79Z" fill="none" stroke="#1a8a1a" stroke-width="1.0" stroke-linejoin="miter"/>
<path d="M224.65,454.36H231.65L228.15,461.36Z" fill="none" stroke="#1a8a1a" stroke-width="1.0" stroke-linejoin="miter"/>
<path d="M227.54,465.37H234.54L231.04,472.37Z" fill="none" stroke="#1a8a1a" stroke-width="1.0" stroke-linejoin="miter"/>
<rect x="69.25" y="396.86" width="8.50" height="8.50" fill="none" stroke="#ff1a1a" stroke-width="1.0"/>
<rect x="106.34" y="397.86" width="8.50" height="8.50" fill="none" stroke="#ff1a1a" stroke-width="1.0"/>
<rect x="128.03" y="399.09" width="8.50" height="8.50" fill="none" stroke="#ff1a1a" stroke-width="1.0"/>
<rect x="143.42" y="400.37" width="8.50" height="8.50" fill="none" stroke="#ff1a1a" stroke-width="1.0"/>
<rect x="155.36" y="401.64" width="8.50" height="8.50" fill="none" stroke="#ff1a1a" stroke-width="1.0"/>
<rect x="165.12" y="402.87" width="8.50" height="8.50" fill="none" stroke="#ff1a1a" stroke-width="1.0"/>
<rect x="173.37" y="404.07" width="8.50" height="8.50" fill="none" stroke="#ff1a1a" stroke-width="1.0"/>
<rect x="180.51" y="405.23" width="8.50" height="8.50" fill="none" stroke="#ff1a1a" stroke-width="1.0"/>
<rect x="186.81" y="406.35" width="8.50" height="8.50" fill="none" stroke="#ff1a1a" stroke-width="1.0"/>
<rect x="192.45" y="407.43" width="8.50" height="8.50" fill="none" stroke="#ff1a1a" stroke-width="1.0"/>
<rect x="197.55" y="408.48" width="8.50" height="8.50" fill="none" stroke="#ff1a1a" stroke-width="1.0"/>
<rect x="202.21" y="409.49" width="8.50" height="8.50" fill="none" stroke="#ff1a1a" stroke-width="1.0"/>
<rect x="206.49" y="410.48" width="8.50" height="8.50" fill="none" stroke="#ff1a1a" stroke-width="1.0"/>
<rect x="210.45" y="411.48" width="8.50" height="8.50" fill="none" stroke="#ff1a1a" stroke-width="1.0"/>
<rect x="214.14" y="412.55" width="8.50" height="8.50" fill="none" stroke="#ff1a1a" stroke-width="1.0"/>
<rect x="217.60" y="413.71" width="8.50" height="8.50" fill="none" stroke="#ff1a1a" stroke-width="1.0"/>
<rect x="220.84" y="414.99" width="8.50" height="8.50" fill="none" stroke="#ff1a1a" stroke-width="1.0"/>
<rect x="223.90" y="416.39" width="8.50" height="8.50" fill="none" stroke="#ff1a1a" stroke-width="1.0"/>
<rect x="226.79" y="417.92" width="8.50" height="8.50" fill="none" stroke="#ff1a1a" stroke-width="1.0"/>
<rect x="229.54" y="419.59" width="8.50" height="8.50" fill="none" stroke="#ff1a1a" stroke-width="1.0"/>
<rect x="232.15" y="421.38" width="8.50" height="8.50" fill="none" stroke="#ff1a1a" stroke-width="1.0"/>
<rect x="234.64" y="423.30" width="8.50" height="8.50" fill="none" stroke="#ff1a1a" stroke-width="1.0"/>
<rect x="237.01" y="425.34" width="8.50" height="8.50" fill="none" stroke="#ff1a1a" stroke-width="1.0"/>
<rect x="239.29" y="427.49" width="8.50" height="8.50" fill="none" stroke="#ff1a1a" stroke-width="1.0"/>
<rect x="241.48" y="429.76" width="8.50" height="8.50" fill="none" stroke="#ff1a1a" stroke-width="1.0"/>
<rect x="243.57" y="432.12" width="8.50" height="8.50" fill="none" stroke="#ff1a1a" stroke-width="1.0"/>
<rect x="245.59" y="434.59" width="8.50" height="8.50" fill="none" stroke="#ff1a1a" stroke-width="1.0"/>
<rect x="247.54" y="437.15" width="8.50" height="8.50" fill="none" stroke="#ff1a1a" stroke-width="1.0"/>
<rect x="249.42" y="439.80" width="8.50" height="8.50" fill="none" stroke="#ff1a1a" stroke-width="1.0"/>
<rect x="251.23" y="442.53" width="8.50" height="8.50" fill="none" stroke="#ff1a1a" stroke-width="1.0"/>
<rect x="252.99" y="445.34" width="8.50" height="8.50" fill="none" stroke="#ff1a1a" stroke-width="1.0"/>
<rect x="254.68" y="448.22" width="8.50" height="8.50" fill="none" stroke="#ff1a1a" stroke-width="1.0"/>
<rect x="256.33" y="451.17" width="8.50" height="8.50" fill="none" stroke="#ff1a1a" stroke-width="1.0"/>
<rect x="257.93" y="454.18" width="8.50" height="8.50" fill="none" stroke="#ff1a1a" stroke-width="1.0"/>
<rect x="259.48" y="457.27" width="8.50" height="8.50" fill="none" stroke="#ff1a1a" stroke-width="1.0"/>
<rect x="260.99" y="460.74" width="8.50" height="8.50" fill="none" stroke="#ff1a1a" stroke-width="1.0"/>
<rect x="262.45" y="465.15" width="8.50" height="8.50" fill="none" stroke="#ff1a1a" stroke-width="1.0"/>
<rect x="263.88" y="470.98" width="8.50" height="8.50" fill="none" stroke="#ff1a1a" stroke-width="1.0"/>
<rect x="265.27" y="478.65" width="8.50" height="8.50" fill="none" stroke="#ff1a1a" stroke-width="1.0"/>
<rect x="266.62" y="488.49" width="8.50" height="8.50" fill="none" stroke="#ff1a1a" stroke-width="1.0"/>
<circle cx="73.50" cy="408.49" r="4.25" fill="none" stroke="#000000" stroke-width="1.0"/>
<circle cx="110.59" cy="409.04" r="4.25" fill="none" stroke="#000000" stroke-width="1.0"/>
<circle cx="132.28" cy="410.75" r="4.25" fill="none" stroke="#000000" stroke-width="1.0"/>
<circle cx="147.67" cy="412.49" r="4.25" fill="none" stroke="#000000" stroke-width="1.0"/>
<circle cx="159.61" cy="414.11" r="4.25" fill="none" stroke="#000000" stroke-width="1.0"/>
<circle cx="169.37" cy="415.60" r="4.25" fill="none" stroke="#000000" stroke-width="1.0"/>
<circle cx="177.62" cy="416.96" r="4.25" fill="none" stroke="#000000" stroke-width="1.0"/>
<circle cx="184.76" cy="418.21" r="4.25" fill="none" stroke="#000000" stroke-width="1.0"/>
<circle cx="191.06" cy="419.37" r="4.25" fill="none" stroke="#000000" stroke-width="1.0"/>
<circle cx="196.70" cy="420.44" r="4.25" fill="none" stroke="#000000" stroke-width="1.0"/>
<circle cx="201.80" cy="421.44" r="4.25" fill="none" stroke="#000000" stroke-width="1.0"/>
<circle cx="206.46" cy="422.37" r="4.25" fill="none" stroke="#000000" stroke-width="1.0"/>
<circle cx="210.74" cy="423.25" r="4.25" fill="none" stroke="#000000" stroke-width="1.0"/>
<circle cx="214.70" cy="424.08" r="4.25" fill="none" stroke="#000000" stroke-width="1.0"/>
<circle cx="218.39" cy="424.86" r="4.25" fill="none" stroke="#000000" stroke-width="1.0"/>
<circle cx="221.85" cy="425.61" r="4.25" fill="none" stroke="#000000" stroke-width="1.0"/>
<circle cx="225.09" cy="426.31" r="4.25" fill="none" stroke="#000000" stroke-width="1.0"/>
<circle cx="228.15" cy="427.00" r="4.25" fill="none" stroke="#000000" stroke-width="1.0"/>
<circle cx="231.04" cy="427.67" r="4.25" fill="none" stroke="#000000" stroke-width="1.0"/>
<circle cx="233.79" cy="428.34" r="4.25" fill="none" stroke="#000000" stroke-width="1.0"/>
<circle cx="236.40" cy="429.01" r="4.25" fill="none" stroke="#000000" stroke-width="1.0"/>
<circle cx="238.89" cy="429.70" r="4.25" fill="none" stroke="#000000" stroke-width="1.0"/>
<circle cx="241.26" cy="430.39" r="4.25" fill="none" stroke="#000000" stroke-width="1.0"/>
<circle cx="243.54" cy="431.11" r="4.25" fill="none" stroke="#000000" stroke-width="1.0"/>
<circle cx="245.73" cy="431.84" r="4.25" fill="none" stroke="#000000" stroke-width="1.0"/>
<circle cx="247.82" cy="432.59" r="4.25" fill="none" stroke="#000000" stroke-width="1.0"/>
<circle cx="249.84" cy="433.36" r="4.25" fill="none" stroke="#000000" stroke-width="1.0"/>
<circle cx="251.79" cy="434.14" r="4.25" fill="none" stroke="#000000" stroke-width="1.0"/>
<circle cx="253.67" cy="434.95" r="4.25" fill="none" stroke="#000000" stroke-width="1.0"/>
<circle cx="255.48" cy="435.78" r="4.25" fill="none" stroke="#000000" stroke-width="1.0"/>
<circle cx="257.24" cy="436.63" r="4.25" fill="none" stroke="#000000" stroke-width="1.0"/>
<circle cx="258.93" cy="437.49" r="4.25" fill="none" stroke="#000000" stroke-width="1.0"/>
<circle cx="260.58" cy="438.37" r="4.25" fill="none" stroke="#000000" stroke-width="1.0"/>
<circle cx="262.18" cy="439.27" r="4.25" fill="none" stroke="#000000" stroke-width="1.0"/>
<circle cx="263.73" cy="440.19" r="4.25" fill="none" stroke="#000000" stroke-width="1.0"/>
<circle cx="265.24" cy="441.12" r="4.25" fill="none" stroke="#000000" stroke-width="1.0"/>
<circle cx="266.70" cy="442.07" r="4.25" fill="none" stroke="#000000" stroke-width="1.0"/>
<circle cx="268.13" cy="443.04" r="4.25" fill="none" stroke="#000000" stroke-width="1.0"/>
<circle cx="269.52" cy="444.01" r="4.25" fill="none" stroke="#000000" stroke-width="1.0"/>
<circle cx="270.87" cy="445.01" r="4.25" fill="none" stroke="#000000" stroke-width="1.0"/>
<circle cx="272.19" cy="446.01" r="4.25" fill="none" stroke="#000000" stroke-width="1.0"/>
<circle cx="273.48" cy="447.03" r="4.25" fill="none" stroke="#000000" stroke-width="1.0"/>
<circle cx="274.74" cy="448.06" r="4.25" fill="none" stroke="#000000" stroke-width="1.0"/>
<circle cx="275.97" cy="449.10" r="4.25" fill="none" stroke="#000000" stroke-width="1.0"/>
<circle cx="277.18" cy="450.15" r="4.25" fill="none" stroke="#000000" stroke-width="1.0"/>
<circle cx="278.35" cy="451.22" r="4.25" fill="none" stroke="#000000" stroke-width="1.0"/>
<circle cx="279.50" cy="452.29" r="4.25" fill="none" stroke="#000000" stroke-width="1.0"/>
<circle cx="280.63" cy="453.37" r="4.25" fill="none" stroke="#000000" stroke-width="1.0"/>
<circle cx="281.73" cy="454.47" r="4.25" fill="none" stroke="#000000" stroke-width="1.0"/>
<circle cx="282.81" cy="455.57" r="4.25" fill="none" stroke="#000000" stroke-width="1.0"/>
<circle cx="283.87" cy="456.67" r="4.25" fill="none" stroke="#000000" stroke-width="1.0"/>
<circle cx="284.91" cy="457.79" r="4.25" fill="none" stroke="#000000" stroke-width="1.0"/>
<circle cx="285.93" cy="458.92" r="4.25" fill="none" stroke="#000000" stroke-width="1.0"/>
<circle cx="286.93" cy="460.05" r="4.25" fill="none" stroke="#000000" stroke-width="1.0"/>
<circle cx="287.91" cy="461.18" r="4.25" fill="none" stroke="#000000" stroke-width="1.0"/>
<circle cx="288.88" cy="462.33" r="4.25" fill="none" stroke="#000000" stroke-width="1.0"/>
<circle cx="289.82" cy="463.48" r="4.25" fill="none" stroke="#000000" stroke-width="1.0"/>
<circle cx="290.75" cy="464.65" r="4.25" fill="none" stroke="#000000" stroke-width="1.0"/>
<circle cx="291.67" cy="465.86" r="4.25" fill="none" stroke="#000000" stroke-width="1.0"/>
<circle cx="292.57" cy="467.14" r="4.25" fill="none" stroke="#000000" stroke-width="1.0"/>
<circle cx="293.45" cy="468.51" r="4.25" fill="none" stroke="#000000" stroke-width="1.0"/>
<circle cx="294.32" cy="470.01" r="4.25" fill="none" stroke="#000000" stroke-width="1.0"/>
<circle cx="295.18" cy="471.64" r="4.25" fill="none" stroke="#000000" stroke-width="1.0"/>
<circle cx="296.02" cy="473.42" r="4.25" fill="none" stroke="#000000" stroke-width="1.0"/>
<circle cx="296.85" cy="475.38" r="4.25" fill="none" stroke="#000000" stroke-width="1.0"/>
<circle cx="297.67" cy="477.52" r="4.25" fill="none" stroke="#000000" stroke-width="1.0"/>
<circle cx="298.47" cy="479.86" r="4.25" fill="none" stroke="#000000" stroke-width="1.0"/>
<circle cx="299.27" cy="482.40" r="4.25" fill="none" stroke="#000000" stroke-width="1.0"/>
<circle cx="300.05" cy="485.17" r="4.25" fill="none" stroke="#000000" stroke-width="1.0"/>
<circle cx="300.82" cy="488.16" r="4.25" fill="none" stroke="#000000" stroke-width="1.0"/>
<circle cx="301.58" cy="491.39" r="4.25" fill="none" stroke="#000000" stroke-width="1.0"/>
<circle cx="302.32" cy="494.85" r="4.25" fill="none" stroke="#000000" stroke-width="1.0"/>
<circle cx="303.06" cy="498.57" r="4.25" fill="none" stroke="#000000" stroke-width="1.0"/>
<polyline points="95.10,404.28 96.31,404.38 97.52,404.48 98.73,404.58 99.94,404.69 101.15,404.79 102.36,404.89 103.56,405.00 104.77,405.10 105.98,405.21 107.19,405.31 108.40,405.42 109.61,405.53 110.82,405.64 112.03,405.74 113.24,405.85 114.45,405.96 115.66,406.08 116.87,406.19 118.08,406.30 119.28,406.41 120.49,406.53 121.70,406.64 122.91,406.76 124.12,406.88 125.33,407.00 126.54,407.12 127.75,407.24 128.96,407.36 130.17,407.49 131.38,407.62 132.59,407.74 133.80,407.87 135.01,408.01 136.21,408.14 137.42,408.28 138.63,408.41 139.84,408.55 141.05,408.70 142.26,408.84 143.47,408.99 144.68,409.14 145.89,409.30 147.10,409.45 148.31,409.62 149.52,409.78 150.73,409.95 151.93,410.12 153.14,410.30 154.35,410.48 155.56,410.66 156.77,410.85 157.98,411.05 159.19,411.25 160.40,411.45 161.61,411.66 162.82,411.88 164.03,412.10 165.24,412.34 166.45,412.57 167.65,412.82 168.86,413.07 170.07,413.34 171.28,413.61 172.49,413.89 173.70,414.18 174.91,414.48 176.12,414.79 177.33,415.12 178.54,415.45 179.75,415.80 180.96,416.17 182.17,416.54 183.37,416.93 184.58,417.34 185.79,417.77 187.00,418.21 188.21,418.67 189.42,419.15 190.63,419.65 191.84,420.17 193.05,420.71 194.26,421.28 195.47,421.88 196.68,422.49 197.89,423.14 199.09,423.82 200.30,424.53 201.51,425.27 202.72,426.04 203.93,426.86 205.14,427.70 206.35,428.59 207.56,429.53 208.77,430.50 209.98,431.53 211.19,432.60 212.40,433.72 213.61,434.90 214.82,436.14 216.02,437.44 217.23,438.80 218.44,440.23 219.65,441.73 220.86,443.30 222.07,444.95 223.28,446.69 224.49,448.51 225.70,450.43 226.91,452.44 228.12,454.55 229.33,456.77 230.54,459.11 231.74,461.56 232.95,464.14 234.16,466.85 235.37,469.70 236.58,472.69 237.79,475.84 239.00,479.16" fill="none" stroke="#1a8a1a" stroke-width="1.5" stroke-linejoin="round"/>
<polyline points="95.10,398.49 96.65,398.70 98.20,398.91 99.75,399.12 101.31,399.33 102.86,399.55 104.41,399.76 105.96,399.97 107.51,400.18 109.06,400.40 110.61,400.61 112.16,400.82 113.72,401.04 115.27,401.25 116.82,401.47 118.37,401.68 119.92,401.90 121.47,402.11 123.02,402.33 124.57,402.55 126.13,402.77 127.68,402.99 129.23,403.21 130.78,403.43 132.33,403.65 133.88,403.87 135.43,404.09 136.98,404.32 138.54,404.54 140.09,404.77 141.64,405.00 143.19,405.22 144.74,405.45 146.29,405.69 147.84,405.92 149.39,406.15 150.95,406.39 152.50,406.63 154.05,406.87 155.60,407.11 157.15,407.35 158.70,407.60 160.25,407.84 161.80,408.09 163.36,408.35 164.91,408.60 166.46,408.86 168.01,409.12 169.56,409.39 171.11,409.66 172.66,409.93 174.21,410.21 175.77,410.49 177.32,410.78 178.87,411.07 180.42,411.36 181.97,411.66 183.52,411.97 185.07,412.28 186.62,412.60 188.18,412.92 189.73,413.26 191.28,413.60 192.83,413.95 194.38,414.30 195.93,414.67 197.48,415.05 199.03,415.43 200.59,415.83 202.14,416.24 203.69,416.66 205.24,417.09 206.79,417.54 208.34,418.00 209.89,418.48 211.44,418.97 213.00,419.48 214.55,420.01 216.10,420.56 217.65,421.13 219.20,421.72 220.75,422.34 222.30,422.98 223.85,423.65 225.41,424.34 226.96,425.07 228.51,425.82 230.06,426.61 231.61,427.43 233.16,428.30 234.71,429.20 236.26,430.14 237.82,431.13 239.37,432.16 240.92,433.25 242.47,434.39 244.02,435.59 245.57,436.84 247.12,438.16 248.67,439.55 250.23,441.01 251.78,442.54 253.33,444.16 254.88,445.86 256.43,447.65 257.98,449.54 259.53,451.53 261.08,453.63 262.64,455.84 264.19,458.18 265.74,460.64 267.29,463.24 268.84,465.99 270.39,468.89 271.94,471.95 273.49,475.19 275.05,478.61 276.60,482.23 278.15,486.06 279.70,490.10" fill="none" stroke="#ff1a1a" stroke-width="1.5" stroke-linejoin="round"/>
<polyline points="95.10,408.15 96.90,408.33 98.70,408.52 100.51,408.70 102.31,408.89 104.11,409.07 105.91,409.26 107.71,409.44 109.51,409.63 111.32,409.81 113.12,410.00 114.92,410.19 116.72,410.38 118.52,410.57 120.32,410.76 122.13,410.94 123.93,411.14 125.73,411.33 127.53,411.52 129.33,411.71 131.13,411.90 132.94,412.10 134.74,412.29 136.54,412.49 138.34,412.69 140.14,412.88 141.94,413.08 143.75,413.28 145.55,413.48 147.35,413.69 149.15,413.89 150.95,414.10 152.75,414.30 154.56,414.51 156.36,414.72 158.16,414.93 159.96,415.15 161.76,415.36 163.56,415.58 165.37,415.80 167.17,416.03 168.97,416.25 170.77,416.48 172.57,416.71 174.37,416.94 176.18,417.18 177.98,417.42 179.78,417.66 181.58,417.91 183.38,418.16 185.18,418.42 186.99,418.68 188.79,418.94 190.59,419.21 192.39,419.49 194.19,419.77 195.99,420.05 197.80,420.34 199.60,420.64 201.40,420.95 203.20,421.26 205.00,421.58 206.80,421.91 208.61,422.24 210.41,422.59 212.21,422.94 214.01,423.31 215.81,423.68 217.61,424.07 219.42,424.47 221.22,424.88 223.02,425.30 224.82,425.74 226.62,426.19 228.42,426.66 230.23,427.15 232.03,427.65 233.83,428.17 235.63,428.71 237.43,429.27 239.23,429.85 241.04,430.46 242.84,431.09 244.64,431.74 246.44,432.42 248.24,433.13 250.04,433.87 251.85,434.65 253.65,435.45 255.45,436.30 257.25,437.18 259.05,438.10 260.85,439.06 262.66,440.07 264.46,441.12 266.26,442.22 268.06,443.38 269.86,444.59 271.66,445.86 273.47,447.20 275.27,448.59 277.07,450.06 278.87,451.60 280.67,453.22 282.47,454.92 284.28,456.71 286.08,458.59 287.88,460.56 289.68,462.64 291.48,464.83 293.28,467.12 295.09,469.54 296.89,472.09 298.69,474.77 300.49,477.60 302.29,480.57 304.09,483.71 305.90,487.01 307.70,490.49 309.50,494.15" fill="none" stroke="#000000" stroke-width="1.5" stroke-linejoin="round"/>
</g>
<clipPath id="clipd"><rect x="417.40" y="374.50" width="251.60" height="218.50"/></clipPath>
<g clip-path="url(#clipd)">
<path d="M418.80,401.10H427.40L423.10,409.70Z" fill="none" stroke="#1a8a1a" stroke-width="1.0" stroke-linejoin="miter"/>
<path d="M455.89,409.22H464.49L460.19,417.82Z" fill="none" stroke="#1a8a1a" stroke-width="1.0" stroke-linejoin="miter"/>
<path d="M477.58,414.97H486.18L481.88,423.57Z" fill="none" stroke="#1a8a1a" stroke-width="1.0" stroke-linejoin="miter"/>
<path d="M492.97,418.63H501.57L497.27,427.23Z" fill="none" stroke="#1a8a1a" stroke-width="1.0" stroke-linejoin="miter"/>
<path d="M504.91,424.68H513.51L509.21,433.28Z" fill="none" stroke="#1a8a1a" stroke-width="1.0" stroke-linejoin="miter"/>
<path d="M514.67,428.89H523.27L518.97,437.49Z" fill="none" stroke="#1a8a1a" stroke-width="1.0" stroke-linejoin="miter"/>
<path d="M522.92,433.91H531.52L527.22,442.51Z" fill="none" stroke="#1a8a1a" stroke-width="1.0" stroke-linejoin="miter"/>
<path d="M530.06,438.42H538.66L534.36,447.02Z" fill="none" stroke="#1a8a1a" stroke-width="1.0" stroke-linejoin="miter"/>
<path d="M536.36,443.97H544.96L540.66,452.57Z" fill="none" stroke="#1a8a1a" stroke-width="1.0" stroke-linejoin="miter"/>
<path d="M542.00,451.20H550.60L546.30,459.80Z" fill="none" stroke="#1a8a1a" stroke-width="1.0" stroke-linejoin="miter"/>
<path d="M547.10,456.98H555.70L551.40,465.58Z" fill="none" stroke="#1a8a1a" stroke-width="1.0" stroke-linejoin="miter"/>
<path d="M551.76,464.17H560.36L556.06,472.77Z" fill="none" stroke="#1a8a1a" stroke-width="1.0" stroke-linejoin="miter"/>
<path d="M556.04,473.35H564.64L560.34,481.95Z" fill="none" stroke="#1a8a1a" stroke-width="1.0" stroke-linejoin="miter"/>
<path d="M560.00,486.38H568.60L564.30,494.98Z" fill="none" stroke="#1a8a1a" stroke-width="1.0" stroke-linejoin="miter"/>
<path d="M563.69,504.44H572.29L567.99,513.04Z" fill="none" stroke="#1a8a1a" stroke-width="1.0" stroke-linejoin="miter"/>
<path d="M567.15,542.89H575.75L571.45,551.49Z" fill="none" stroke="#1a8a1a" stroke-width="1.0" stroke-linejoin="miter"/>
<rect x="418.70" y="396.60" width="8.80" height="8.80" fill="none" stroke="#ff1a1a" stroke-width="1.0"/>
<rect x="455.79" y="402.49" width="8.80" height="8.80" fill="none" stroke="#ff1a1a" stroke-width="1.0"/>
<rect x="477.48" y="406.86" width="8.80" height="8.80" fill="none" stroke="#ff1a1a" stroke-width="1.0"/>
<rect x="492.87" y="410.82" width="8.80" height="8.80" fill="none" stroke="#ff1a1a" stroke-width="1.0"/>
<rect x="504.81" y="415.76" width="8.80" height="8.80" fill="none" stroke="#ff1a1a" stroke-width="1.0"/>
<rect x="514.57" y="419.98" width="8.80" height="8.80" fill="none" stroke="#ff1a1a" stroke-width="1.0"/>
<rect x="522.82" y="423.81" width="8.80" height="8.80" fill="none" stroke="#ff1a1a" stroke-width="1.0"/>
<rect x="529.96" y="427.99" width="8.80" height="8.80" fill="none" stroke="#ff1a1a" stroke-width="1.0"/>
<rect x="536.26" y="431.14" width="8.80" height="8.80" fill="none" stroke="#ff1a1a" stroke-width="1.0"/>
<rect x="541.90" y="436.12" width="8.80" height="8.80" fill="none" stroke="#ff1a1a" stroke-width="1.0"/>
<rect x="547.00" y="440.70" width="8.80" height="8.80" fill="none" stroke="#ff1a1a" stroke-width="1.0"/>
<rect x="551.66" y="445.64" width="8.80" height="8.80" fill="none" stroke="#ff1a1a" stroke-width="1.0"/>
<rect x="555.94" y="449.51" width="8.80" height="8.80" fill="none" stroke="#ff1a1a" stroke-width="1.0"/>
<rect x="559.90" y="452.95" width="8.80" height="8.80" fill="none" stroke="#ff1a1a" stroke-width="1.0"/>
<rect x="563.59" y="456.51" width="8.80" height="8.80" fill="none" stroke="#ff1a1a" stroke-width="1.0"/>
<rect x="567.05" y="460.17" width="8.80" height="8.80" fill="none" stroke="#ff1a1a" stroke-width="1.0"/>
<rect x="570.29" y="463.93" width="8.80" height="8.80" fill="none" stroke="#ff1a1a" stroke-width="1.0"/>
<rect x="573.35" y="467.89" width="8.80" height="8.80" fill="none" stroke="#ff1a1a" stroke-width="1.0"/>
<rect x="576.24" y="472.29" width="8.80" height="8.80" fill="none" stroke="#ff1a1a" stroke-width="1.0"/>
<rect x="578.99" y="476.77" width="8.80" height="8.80" fill="none" stroke="#ff1a1a" stroke-width="1.0"/>
<rect x="581.60" y="481.30" width="8.80" height="8.80" fill="none" stroke="#ff1a1a" stroke-width="1.0"/>
<rect x="584.09" y="485.53" width="8.80" height="8.80" fill="none" stroke="#ff1a1a" stroke-width="1.0"/>
<rect x="586.46" y="490.04" width="8.80" height="8.80" fill="none" stroke="#ff1a1a" stroke-width="1.0"/>
<rect x="588.74" y="497.95" width="8.80" height="8.80" fill="none" stroke="#ff1a1a" stroke-width="1.0"/>
<rect x="590.93" y="508.69" width="8.80" height="8.80" fill="none" stroke="#ff1a1a" stroke-width="1.0"/>
<rect x="593.02" y="525.37" width="8.80" height="8.80" fill="none" stroke="#ff1a1a" stroke-width="1.0"/>
<rect x="595.04" y="544.05" width="8.80" height="8.80" fill="none" stroke="#ff1a1a" stroke-width="1.0"/>
<circle cx="423.10" cy="394.00" r="4.75" fill="none" stroke="#000000" stroke-width="1.0"/>
<circle cx="460.19" cy="398.06" r="4.75" fill="none" stroke="#000000" stroke-width="1.0"/>
<circle cx="481.88" cy="401.45" r="4.75" fill="none" stroke="#000000" stroke-width="1.0"/>
<circle cx="497.27" cy="404.29" r="4.75" fill="none" stroke="#000000" stroke-width="1.0"/>
<circle cx="509.21" cy="407.66" r="4.75" fill="none" stroke="#000000" stroke-width="1.0"/>
<circle cx="518.97" cy="410.15" r="4.75" fill="none" stroke="#000000" stroke-width="1.0"/>
<circle cx="527.22" cy="412.61" r="4.75" fill="none" stroke="#000000" stroke-width="1.0"/>
<circle cx="534.36" cy="415.60" r="4.75" fill="none" stroke="#000000" stroke-width="1.0"/>
<circle cx="540.66" cy="417.84" r="4.75" fill="none" stroke="#000000" stroke-width="1.0"/>
<circle cx="546.30" cy="420.11" r="4.75" fill="none" stroke="#000000" stroke-width="1.0"/>
<circle cx="551.40" cy="422.37" r="4.75" fill="none" stroke="#000000" stroke-width="1.0"/>
<circle cx="556.06" cy="424.63" r="4.75" fill="none" stroke="#000000" stroke-width="1.0"/>
<circle cx="560.34" cy="426.85" r="4.75" fill="none" stroke="#000000" stroke-width="1.0"/>
<circle cx="564.30" cy="429.09" r="4.75" fill="none" stroke="#000000" stroke-width="1.0"/>
<circle cx="567.99" cy="431.39" r="4.75" fill="none" stroke="#000000" stroke-width="1.0"/>
<circle cx="571.45" cy="433.75" r="4.75" fill="none" stroke="#000000" stroke-width="1.0"/>
<circle cx="574.69" cy="436.09" r="4.75" fill="none" stroke="#000000" stroke-width="1.0"/>
<circle cx="577.75" cy="438.34" r="4.75" fill="none" stroke="#000000" stroke-width="1.0"/>
<circle cx="580.64" cy="440.47" r="4.75" fill="none" stroke="#000000" stroke-width="1.0"/>
<circle cx="583.39" cy="442.43" r="4.75" fill="none" stroke="#000000" stroke-width="1.0"/>
<circle cx="586.00" cy="444.29" r="4.75" fill="none" stroke="#000000" stroke-width="1.0"/>
<circle cx="588.49" cy="446.09" r="4.75" fill="none" stroke="#000000" stroke-width="1.0"/>
<circle cx="590.86" cy="447.89" r="4.75" fill="none" stroke="#000000" stroke-width="1.0"/>
<circle cx="593.14" cy="449.73" r="4.75" fill="none" stroke="#000000" stroke-width="1.0"/>
<circle cx="595.33" cy="451.63" r="4.75" fill="none" stroke="#000000" stroke-width="1.0"/>
<circle cx="597.42" cy="453.61" r="4.75" fill="none" stroke="#000000" stroke-width="1.0"/>
<circle cx="599.44" cy="455.77" r="4.75" fill="none" stroke="#000000" stroke-width="1.0"/>
<circle cx="601.39" cy="458.06" r="4.75" fill="none" stroke="#000000" stroke-width="1.0"/>
<circle cx="603.27" cy="460.40" r="4.75" fill="none" stroke="#000000" stroke-width="1.0"/>
<circle cx="605.08" cy="462.75" r="4.75" fill="none" stroke="#000000" stroke-width="1.0"/>
<circle cx="606.84" cy="465.05" r="4.75" fill="none" stroke="#000000" stroke-width="1.0"/>
<circle cx="608.53" cy="467.31" r="4.75" fill="none" stroke="#000000" stroke-width="1.0"/>
<circle cx="610.18" cy="469.55" r="4.75" fill="none" stroke="#000000" stroke-width="1.0"/>
<circle cx="611.78" cy="471.81" r="4.75" fill="none" stroke="#000000" stroke-width="1.0"/>
<circle cx="613.33" cy="474.07" r="4.75" fill="none" stroke="#000000" stroke-width="1.0"/>
<circle cx="614.84" cy="476.36" r="4.75" fill="none" stroke="#000000" stroke-width="1.0"/>
<circle cx="616.30" cy="478.66" r="4.75" fill="none" stroke="#000000" stroke-width="1.0"/>
<circle cx="617.73" cy="481.01" r="4.75" fill="none" stroke="#000000" stroke-width="1.0"/>
<circle cx="619.12" cy="483.40" r="4.75" fill="none" stroke="#000000" stroke-width="1.0"/>
<circle cx="620.47" cy="485.84" r="4.75" fill="none" stroke="#000000" stroke-width="1.0"/>
<circle cx="621.79" cy="488.33" r="4.75" fill="none" stroke="#000000" stroke-width="1.0"/>
<circle cx="623.08" cy="490.87" r="4.75" fill="none" stroke="#000000" stroke-width="1.0"/>
<circle cx="624.34" cy="493.49" r="4.75" fill="none" stroke="#000000" stroke-width="1.0"/>
<circle cx="625.57" cy="496.18" r="4.75" fill="none" stroke="#000000" stroke-width="1.0"/>
<circle cx="626.78" cy="498.91" r="4.75" fill="none" stroke="#000000" stroke-width="1.0"/>
<circle cx="627.95" cy="501.68" r="4.75" fill="none" stroke="#000000" stroke-width="1.0"/>
<circle cx="627.70" cy="503.40" r="4.75" fill="none" stroke="#000000" stroke-width="1.0"/>
<circle cx="628.60" cy="511.20" r="4.75" fill="none" stroke="#000000" stroke-width="1.0"/>
<circle cx="632.10" cy="517.20" r="4.75" fill="none" stroke="#000000" stroke-width="1.0"/>
<circle cx="635.50" cy="515.50" r="4.75" fill="none" stroke="#000000" stroke-width="1.0"/>
<circle cx="634.70" cy="523.30" r="4.75" fill="none" stroke="#000000" stroke-width="1.0"/>
<circle cx="633.80" cy="531.10" r="4.75" fill="none" stroke="#000000" stroke-width="1.0"/>
<circle cx="639.00" cy="531.10" r="4.75" fill="none" stroke="#000000" stroke-width="1.0"/>
<circle cx="636.40" cy="538.90" r="4.75" fill="none" stroke="#000000" stroke-width="1.0"/>
<circle cx="640.70" cy="539.80" r="4.75" fill="none" stroke="#000000" stroke-width="1.0"/>
<circle cx="639.90" cy="548.40" r="4.75" fill="none" stroke="#000000" stroke-width="1.0"/>
<circle cx="642.50" cy="555.40" r="4.75" fill="none" stroke="#000000" stroke-width="1.0"/>
<polyline points="444.40,404.74 445.75,405.01 447.11,405.28 448.46,405.55 449.82,405.83 451.17,406.12 452.53,406.41 453.88,406.70 455.24,407.00 456.59,407.31 457.95,407.62 459.30,407.93 460.66,408.25 462.01,408.58 463.36,408.91 464.72,409.25 466.07,409.60 467.43,409.95 468.78,410.31 470.14,410.68 471.49,411.05 472.85,411.43 474.20,411.82 475.56,412.22 476.91,412.63 478.27,413.04 479.62,413.46 480.97,413.90 482.33,414.34 483.68,414.79 485.04,415.25 486.39,415.73 487.75,416.21 489.10,416.70 490.46,417.21 491.81,417.73 493.17,418.26 494.52,418.80 495.88,419.36 497.23,419.93 498.58,420.51 499.94,421.11 501.29,421.72 502.65,422.35 504.00,423.00 505.36,423.66 506.71,424.33 508.07,425.03 509.42,425.74 510.78,426.47 512.13,427.23 513.49,428.00 514.84,428.79 516.19,429.60 517.55,430.44 518.90,431.29 520.26,432.17 521.61,433.08 522.97,434.01 524.32,434.96 525.68,435.95 527.03,436.96 528.39,437.99 529.74,439.06 531.10,440.16 532.45,441.29 533.81,442.45 535.16,443.64 536.51,444.87 537.87,446.13 539.22,447.43 540.58,448.77 541.93,450.15 543.29,451.56 544.64,453.02 546.00,454.52 547.35,456.07 548.71,457.66 550.06,459.30 551.42,460.99 552.77,462.73 554.12,464.52 555.48,466.36 556.83,468.26 558.19,470.22 559.54,472.23 560.90,474.31 562.25,476.45 563.61,478.66 564.96,480.93 566.32,483.27 567.67,485.69 569.03,488.18 570.38,490.74 571.73,493.38 573.09,496.11 574.44,498.92 575.80,501.82 577.15,504.80 578.51,507.88 579.86,511.06 581.22,514.33 582.57,517.71 583.93,521.19 585.28,524.78 586.64,528.48 587.99,532.30 589.34,536.24 590.70,540.30 592.05,544.49 593.41,548.81 594.76,553.27 596.12,557.87 597.47,562.62 598.83,567.51 600.18,572.56 601.54,577.77 602.89,583.14 604.25,588.69 605.60,594.41" fill="none" stroke="#1a8a1a" stroke-width="1.5" stroke-linejoin="round"/>
<polyline points="444.40,401.84 445.90,402.25 447.39,402.65 448.89,403.06 450.39,403.47 451.89,403.89 453.38,404.30 454.88,404.72 456.38,405.14 457.88,405.56 459.37,405.99 460.87,406.41 462.37,406.84 463.87,407.27 465.36,407.71 466.86,408.15 468.36,408.59 469.86,409.03 471.35,409.48 472.85,409.93 474.35,410.39 475.85,410.85 477.34,411.31 478.84,411.78 480.34,412.25 481.84,412.73 483.33,413.21 484.83,413.70 486.33,414.19 487.83,414.68 489.32,415.19 490.82,415.70 492.32,416.21 493.82,416.74 495.31,417.26 496.81,417.80 498.31,418.34 499.81,418.90 501.30,419.46 502.80,420.02 504.30,420.60 505.80,421.19 507.29,421.78 508.79,422.39 510.29,423.01 511.79,423.63 513.28,424.27 514.78,424.92 516.28,425.59 517.78,426.27 519.27,426.96 520.77,427.66 522.27,428.38 523.77,429.12 525.26,429.87 526.76,430.64 528.26,431.42 529.76,432.23 531.25,433.05 532.75,433.90 534.25,434.76 535.75,435.65 537.24,436.56 538.74,437.49 540.24,438.45 541.74,439.44 543.23,440.45 544.73,441.49 546.23,442.56 547.73,443.66 549.22,444.80 550.72,445.96 552.22,447.17 553.72,448.41 555.21,449.69 556.71,451.00 558.21,452.37 559.71,453.77 561.20,455.22 562.70,456.72 564.20,458.26 565.70,459.86 567.19,461.52 568.69,463.23 570.19,465.00 571.69,466.83 573.18,468.72 574.68,470.69 576.18,472.72 577.68,474.83 579.17,477.01 580.67,479.27 582.17,481.62 583.67,484.05 585.16,486.58 586.66,489.20 588.16,491.92 589.66,494.74 591.15,497.67 592.65,500.71 594.15,503.88 595.65,507.16 597.14,510.57 598.64,514.12 600.14,517.81 601.64,521.64 603.13,525.63 604.63,529.77 606.13,534.08 607.63,538.57 609.12,543.24 610.62,548.09 612.12,553.15 613.62,558.41 615.11,563.88 616.61,569.58 618.11,575.52 619.61,581.70 621.10,588.13 622.60,594.83" fill="none" stroke="#ff1a1a" stroke-width="1.5" stroke-linejoin="round"/>
<polyline points="444.40,394.99 446.18,395.32 447.97,395.66 449.75,395.99 451.54,396.33 453.32,396.67 455.11,397.01 456.89,397.36 458.68,397.70 460.46,398.05 462.25,398.39 464.03,398.74 465.82,399.09 467.60,399.45 469.39,399.80 471.17,400.16 472.96,400.52 474.74,400.88 476.53,401.25 478.31,401.61 480.10,401.98 481.88,402.36 483.67,402.73 485.45,403.11 487.24,403.50 489.02,403.88 490.81,404.27 492.59,404.67 494.38,405.07 496.16,405.47 497.95,405.88 499.73,406.29 501.52,406.71 503.30,407.13 505.09,407.56 506.87,407.99 508.66,408.43 510.44,408.88 512.23,409.34 514.01,409.80 515.79,410.27 517.58,410.74 519.36,411.23 521.15,411.72 522.93,412.22 524.72,412.74 526.50,413.26 528.29,413.79 530.07,414.34 531.86,414.89 533.64,415.46 535.43,416.04 537.21,416.64 539.00,417.25 540.78,417.88 542.57,418.52 544.35,419.17 546.14,419.85 547.92,420.54 549.71,421.25 551.49,421.99 553.28,422.74 555.06,423.52 556.85,424.32 558.63,425.14 560.42,426.00 562.20,426.87 563.99,427.78 565.77,428.72 567.56,429.69 569.34,430.69 571.13,431.73 572.91,432.80 574.70,433.91 576.48,435.06 578.27,436.26 580.05,437.50 581.84,438.79 583.62,440.12 585.41,441.51 587.19,442.95 588.97,444.45 590.76,446.01 592.54,447.64 594.33,449.33 596.11,451.09 597.90,452.92 599.68,454.83 601.47,456.82 603.25,458.90 605.04,461.06 606.82,463.32 608.61,465.68 610.39,468.14 612.18,470.71 613.96,473.39 615.75,476.20 617.53,479.13 619.32,482.19 621.10,485.39 622.89,488.74 624.67,492.24 626.46,495.91 628.24,499.74 630.03,503.75 631.81,507.95 633.60,512.34 635.38,516.95 637.17,521.77 638.95,526.81 640.74,532.10 642.52,537.64 644.31,543.45 646.09,549.53 647.88,555.90 649.66,562.58 651.45,569.59 653.23,576.93 655.02,584.63 656.80,592.70" fill="none" stroke="#000000" stroke-width="1.5" stroke-linejoin="round"/>
</g>
<path d="M73.50,273.50v3.5 M110.59,273.50v2 M132.28,273.50v2 M147.67,273.50v2 M159.61,273.50v2 M169.37,273.50v2 M177.62,273.50v2 M184.76,273.50v2 M191.06,273.50v2 M196.70,273.50v3.5 M233.79,273.50v2 M255.48,273.50v2 M270.87,273.50v2 M282.81,273.50v2 M292.57,273.50v2 M300.82,273.50v2 M307.96,273.50v2 M314.26,273.50v2 M319.90,273.50v3.5 M68.40,273.50h-3.5 M68.40,259.20h-2 M68.40,250.84h-2 M68.40,244.90h-2 M68.40,240.30h-2 M68.40,236.54h-2 M68.40,233.36h-2 M68.40,230.60h-2 M68.40,228.17h-2 M68.40,226.00h-3.5 M68.40,211.70h-2 M68.40,203.34h-2 M68.40,197.40h-2 M68.40,192.80h-2 M68.40,189.04h-2 M68.40,185.86h-2 M68.40,183.10h-2 M68.40,180.67h-2 M68.40,178.50h-3.5 M68.40,164.20h-2 M68.40,155.84h-2 M68.40,149.90h-2 M68.40,145.30h-2 M68.40,141.54h-2 M68.40,138.36h-2 M68.40,135.60h-2 M68.40,133.17h-2 M68.40,131.00h-3.5 M68.40,116.70h-2 M68.40,108.34h-2 M68.40,102.40h-2 M68.40,97.80h-2 M68.40,94.04h-2 M68.40,90.86h-2 M68.40,88.10h-2 M68.40,85.67h-2 M68.40,83.50h-3.5 M68.40,69.20h-2 M68.40,60.84h-2" stroke="#4d4d4d" stroke-width="0.9" fill="none"/>
<rect x="68.40" y="55.00" width="251.50" height="218.50" fill="none" stroke="#4d4d4d" stroke-width="0.9"/>
<text x="59.28" y="292.30" font-size="18.5" letter-spacing="0.8">10</text>
<text x="80.65" y="286.40" font-size="12.5">0</text>
<text x="182.78" y="292.30" font-size="18.5" letter-spacing="0.8">10</text>
<text x="203.68" y="286.40" font-size="12.5">1</text>
<text x="305.82" y="292.30" font-size="18.5" letter-spacing="0.8">10</text>
<text x="327.05" y="286.40" font-size="12.5">2</text>
<text x="22.65" y="279.90" font-size="18.5" letter-spacing="0.8">10</text>
<path d="M45.30,269.60h7.9" stroke="#000" stroke-width="1.15"/>
<text x="54.21" y="273.30" font-size="12.5">4</text>
<text x="23.02" y="232.40" font-size="18.5" letter-spacing="0.8">10</text>
<path d="M45.68,222.10h7.9" stroke="#000" stroke-width="1.15"/>
<text x="54.40" y="225.80" font-size="12.5">3</text>
<text x="23.25" y="184.90" font-size="18.5" letter-spacing="0.8">10</text>
<path d="M45.90,174.60h7.9" stroke="#000" stroke-width="1.15"/>
<text x="54.48" y="178.30" font-size="12.5">2</text>
<text x="23.56" y="137.40" font-size="18.5" letter-spacing="0.8">10</text>
<path d="M46.21,127.10h7.9" stroke="#000" stroke-width="1.15"/>
<text x="54.46" y="130.80" font-size="12.5">1</text>
<text x="32.97" y="89.90" font-size="18.5" letter-spacing="0.8">10</text>
<text x="54.34" y="83.30" font-size="12.5">0</text>
<text x="194.15" y="311.00" text-anchor="middle" font-size="18" font-style="italic">r</text>
<text transform="translate(15.80,165.25) rotate(-90)" text-anchor="middle" font-size="18"><tspan font-style="italic">C</tspan>(<tspan font-style="italic">r</tspan>)</text>
<path d="M423.10,273.50v3.5 M460.19,273.50v2 M481.88,273.50v2 M497.27,273.50v2 M509.21,273.50v2 M518.97,273.50v2 M527.22,273.50v2 M534.36,273.50v2 M540.66,273.50v2 M546.30,273.50v3.5 M583.39,273.50v2 M605.08,273.50v2 M620.47,273.50v2 M632.41,273.50v2 M642.17,273.50v2 M650.42,273.50v2 M657.56,273.50v2 M663.86,273.50v2 M669.50,273.50v3.5 M417.40,273.50h-3.5 M417.40,259.20h-2 M417.40,250.84h-2 M417.40,244.90h-2 M417.40,240.30h-2 M417.40,236.54h-2 M417.40,233.36h-2 M417.40,230.60h-2 M417.40,228.17h-2 M417.40,226.00h-3.5 M417.40,211.70h-2 M417.40,203.34h-2 M417.40,197.40h-2 M417.40,192.80h-2 M417.40,189.04h-2 M417.40,185.86h-2 M417.40,183.10h-2 M417.40,180.67h-2 M417.40,178.50h-3.5 M417.40,164.20h-2 M417.40,155.84h-2 M417.40,149.90h-2 M417.40,145.30h-2 M417.40,141.54h-2 M417.40,138.36h-2 M417.40,135.60h-2 M417.40,133.17h-2 M417.40,131.00h-3.5 M417.40,116.70h-2 M417.40,108.34h-2 M417.40,102.40h-2 M417.40,97.80h-2 M417.40,94.04h-2 M417.40,90.86h-2 M417.40,88.10h-2 M417.40,85.67h-2 M417.40,83.50h-3.5 M417.40,69.20h-2 M417.40,60.84h-2" stroke="#4d4d4d" stroke-width="0.9" fill="none"/>
<rect x="417.40" y="55.00" width="251.60" height="218.50" fill="none" stroke="#4d4d4d" stroke-width="0.9"/>
<text x="408.88" y="292.30" font-size="18.5" letter-spacing="0.8">10</text>
<text x="430.25" y="286.40" font-size="12.5">0</text>
<text x="532.38" y="292.30" font-size="18.5" letter-spacing="0.8">10</text>
<text x="553.28" y="286.40" font-size="12.5">1</text>
<text x="655.42" y="292.30" font-size="18.5" letter-spacing="0.8">10</text>
<text x="676.65" y="286.40" font-size="12.5">2</text>
<text x="371.65" y="279.90" font-size="18.5" letter-spacing="0.8">10</text>
<path d="M394.30,269.60h7.9" stroke="#000" stroke-width="1.15"/>
<text x="403.21" y="273.30" font-size="12.5">4</text>
<text x="372.02" y="232.40" font-size="18.5" letter-spacing="0.8">10</text>
<path d="M394.67,222.10h7.9" stroke="#000" stroke-width="1.15"/>
<text x="403.40" y="225.80" font-size="12.5">3</text>
<text x="372.25" y="184.90" font-size="18.5" letter-spacing="0.8">10</text>
<path d="M394.90,174.60h7.9" stroke="#000" stroke-width="1.15"/>
<text x="403.47" y="178.30" font-size="12.5">2</text>
<text x="372.56" y="137.40" font-size="18.5" letter-spacing="0.8">10</text>
<path d="M395.21,127.10h7.9" stroke="#000" stroke-width="1.15"/>
<text x="403.46" y="130.80" font-size="12.5">1</text>
<text x="381.97" y="89.90" font-size="18.5" letter-spacing="0.8">10</text>
<text x="403.34" y="83.30" font-size="12.5">0</text>
<text x="543.20" y="311.00" text-anchor="middle" font-size="18" font-style="italic">r</text>
<text transform="translate(364.80,165.25) rotate(-90)" text-anchor="middle" font-size="18"><tspan font-style="italic">C</tspan>(<tspan font-style="italic">r</tspan>)</text>
<path d="M73.50,593.00v3.5 M110.59,593.00v2 M132.28,593.00v2 M147.67,593.00v2 M159.61,593.00v2 M169.37,593.00v2 M177.62,593.00v2 M184.76,593.00v2 M191.06,593.00v2 M196.70,593.00v3.5 M233.79,593.00v2 M255.48,593.00v2 M270.87,593.00v2 M282.81,593.00v2 M292.57,593.00v2 M300.82,593.00v2 M307.96,593.00v2 M314.26,593.00v2 M319.90,593.00v3.5 M68.40,593.00h-3.5 M68.40,578.70h-2 M68.40,570.34h-2 M68.40,564.40h-2 M68.40,559.80h-2 M68.40,556.04h-2 M68.40,552.86h-2 M68.40,550.10h-2 M68.40,547.67h-2 M68.40,545.50h-3.5 M68.40,531.20h-2 M68.40,522.84h-2 M68.40,516.90h-2 M68.40,512.30h-2 M68.40,508.54h-2 M68.40,505.36h-2 M68.40,502.60h-2 M68.40,500.17h-2 M68.40,498.00h-3.5 M68.40,483.70h-2 M68.40,475.34h-2 M68.40,469.40h-2 M68.40,464.80h-2 M68.40,461.04h-2 M68.40,457.86h-2 M68.40,455.10h-2 M68.40,452.67h-2 M68.40,450.50h-3.5 M68.40,436.20h-2 M68.40,427.84h-2 M68.40,421.90h-2 M68.40,417.30h-2 M68.40,413.54h-2 M68.40,410.36h-2 M68.40,407.60h-2 M68.40,405.17h-2 M68.40,403.00h-3.5 M68.40,388.70h-2 M68.40,380.34h-2" stroke="#4d4d4d" stroke-width="0.9" fill="none"/>
<rect x="68.40" y="374.50" width="251.50" height="218.50" fill="none" stroke="#4d4d4d" stroke-width="0.9"/>
<text x="59.28" y="611.80" font-size="18.5" letter-spacing="0.8">10</text>
<text x="80.65" y="605.90" font-size="12.5">0</text>
<text x="182.78" y="611.80" font-size="18.5" letter-spacing="0.8">10</text>
<text x="203.68" y="605.90" font-size="12.5">1</text>
<text x="305.82" y="611.80" font-size="18.5" letter-spacing="0.8">10</text>
<text x="327.05" y="605.90" font-size="12.5">2</text>
<text x="22.65" y="599.40" font-size="18.5" letter-spacing="0.8">10</text>
<path d="M45.30,589.10h7.9" stroke="#000" stroke-width="1.15"/>
<text x="54.21" y="592.80" font-size="12.5">4</text>
<text x="23.02" y="551.90" font-size="18.5" letter-spacing="0.8">10</text>
<path d="M45.68,541.60h7.9" stroke="#000" stroke-width="1.15"/>
<text x="54.40" y="545.30" font-size="12.5">3</text>
<text x="23.25" y="504.40" font-size="18.5" letter-spacing="0.8">10</text>
<path d="M45.90,494.10h7.9" stroke="#000" stroke-width="1.15"/>
<text x="54.48" y="497.80" font-size="12.5">2</text>
<text x="23.56" y="456.90" font-size="18.5" letter-spacing="0.8">10</text>
<path d="M46.21,446.60h7.9" stroke="#000" stroke-width="1.15"/>
<text x="54.46" y="450.30" font-size="12.5">1</text>
<text x="32.97" y="409.40" font-size="18.5" letter-spacing="0.8">10</text>
<text x="54.34" y="402.80" font-size="12.5">0</text>
<text x="194.15" y="630.50" text-anchor="middle" font-size="18" font-style="italic">r</text>
<text transform="translate(15.80,484.75) rotate(-90)" text-anchor="middle" font-size="18"><tspan font-style="italic">C</tspan>(<tspan font-style="italic">r</tspan>)</text>
<path d="M423.10,593.00v3.5 M460.19,593.00v2 M481.88,593.00v2 M497.27,593.00v2 M509.21,593.00v2 M518.97,593.00v2 M527.22,593.00v2 M534.36,593.00v2 M540.66,593.00v2 M546.30,593.00v3.5 M583.39,593.00v2 M605.08,593.00v2 M620.47,593.00v2 M632.41,593.00v2 M642.17,593.00v2 M650.42,593.00v2 M657.56,593.00v2 M663.86,593.00v2 M669.50,593.00v3.5 M417.40,593.00h-3.5 M417.40,578.70h-2 M417.40,570.34h-2 M417.40,564.40h-2 M417.40,559.80h-2 M417.40,556.04h-2 M417.40,552.86h-2 M417.40,550.10h-2 M417.40,547.67h-2 M417.40,545.50h-3.5 M417.40,531.20h-2 M417.40,522.84h-2 M417.40,516.90h-2 M417.40,512.30h-2 M417.40,508.54h-2 M417.40,505.36h-2 M417.40,502.60h-2 M417.40,500.17h-2 M417.40,498.00h-3.5 M417.40,483.70h-2 M417.40,475.34h-2 M417.40,469.40h-2 M417.40,464.80h-2 M417.40,461.04h-2 M417.40,457.86h-2 M417.40,455.10h-2 M417.40,452.67h-2 M417.40,450.50h-3.5 M417.40,436.20h-2 M417.40,427.84h-2 M417.40,421.90h-2 M417.40,417.30h-2 M417.40,413.54h-2 M417.40,410.36h-2 M417.40,407.60h-2 M417.40,405.17h-2 M417.40,403.00h-3.5 M417.40,388.70h-2 M417.40,380.34h-2" stroke="#4d4d4d" stroke-width="0.9" fill="none"/>
<rect x="417.40" y="374.50" width="251.60" height="218.50" fill="none" stroke="#4d4d4d" stroke-width="0.9"/>
<text x="408.88" y="611.80" font-size="18.5" letter-spacing="0.8">10</text>
<text x="430.25" y="605.90" font-size="12.5">0</text>
<text x="532.38" y="611.80" font-size="18.5" letter-spacing="0.8">10</text>
<text x="553.28" y="605.90" font-size="12.5">1</text>
<text x="655.42" y="611.80" font-size="18.5" letter-spacing="0.8">10</text>
<text x="676.65" y="605.90" font-size="12.5">2</text>
<text x="371.65" y="599.40" font-size="18.5" letter-spacing="0.8">10</text>
<path d="M394.30,589.10h7.9" stroke="#000" stroke-width="1.15"/>
<text x="403.21" y="592.80" font-size="12.5">4</text>
<text x="372.02" y="551.90" font-size="18.5" letter-spacing="0.8">10</text>
<path d="M394.67,541.60h7.9" stroke="#000" stroke-width="1.15"/>
<text x="403.40" y="545.30" font-size="12.5">3</text>
<text x="372.25" y="504.40" font-size="18.5" letter-spacing="0.8">10</text>
<path d="M394.90,494.10h7.9" stroke="#000" stroke-width="1.15"/>
<text x="403.47" y="497.80" font-size="12.5">2</text>
<text x="372.56" y="456.90" font-size="18.5" letter-spacing="0.8">10</text>
<path d="M395.21,446.60h7.9" stroke="#000" stroke-width="1.15"/>
<text x="403.46" y="450.30" font-size="12.5">1</text>
<text x="381.97" y="409.40" font-size="18.5" letter-spacing="0.8">10</text>
<text x="403.34" y="402.80" font-size="12.5">0</text>
<text x="543.20" y="630.50" text-anchor="middle" font-size="18" font-style="italic">r</text>
<text transform="translate(364.80,484.75) rotate(-90)" text-anchor="middle" font-size="18"><tspan font-style="italic">C</tspan>(<tspan font-style="italic">r</tspan>)</text>
<rect x="112.50" y="159.50" width="79.00" height="74.00" fill="#fff" stroke="none"/>
<clipPath id="iclipa"><rect x="112.50" y="159.50" width="79.00" height="74.00"/></clipPath>
<g clip-path="url(#iclipa)">
<polyline points="116.09,230.40 152.00,196.35 187.91,162.29" fill="none" stroke="#0b93c9" stroke-width="1.6"/>
<rect x="111.59" y="225.90" width="9" height="9" fill="#0b93c9"/>
<rect x="147.50" y="191.85" width="9" height="9" fill="#0b93c9"/>
<rect x="183.41" y="157.79" width="9" height="9" fill="#0b93c9"/>
</g>
<path d="M116.09,233.50v3.5 M152.00,233.50v3.5 M187.91,233.50v3.5 M112.50,230.40h-3.5 M112.50,199.44h-3.5 M112.50,168.48h-3.5" stroke="#3a3a3a" stroke-width="0.9" fill="none"/>
<rect x="112.50" y="159.50" width="79.00" height="74.00" fill="none" stroke="#3a3a3a" stroke-width="0.9"/>
<text x="116.09" y="249.70" text-anchor="middle" font-size="14">7</text>
<text x="152.00" y="249.70" text-anchor="middle" font-size="14">8</text>
<text x="187.91" y="249.70" text-anchor="middle" font-size="14">9</text>
<text x="107.15" y="235.90" text-anchor="end" font-size="14" letter-spacing="0.8">10</text>
<text x="107.15" y="204.94" text-anchor="end" font-size="14" letter-spacing="0.8">15</text>
<text x="107.15" y="173.98" text-anchor="end" font-size="14" letter-spacing="0.8">20</text>
<text x="146.00" y="265.70" font-size="14.2" font-style="italic">L<tspan dy="2.4" font-size="10">z</tspan></text>
<text transform="translate(83.90,202.50) rotate(-90)" font-size="13.5" font-style="italic">r<tspan dx="1" dy="2.4" font-size="10" font-style="normal">0</tspan></text>
<rect x="461.50" y="159.50" width="78.60" height="74.00" fill="#fff" stroke="none"/>
<clipPath id="iclipb"><rect x="461.50" y="159.50" width="78.60" height="74.00"/></clipPath>
<g clip-path="url(#iclipb)">
<polyline points="465.07,230.54 500.80,196.50 536.53,163.57" fill="none" stroke="#0b93c9" stroke-width="1.6"/>
<rect x="460.57" y="226.04" width="9" height="9" fill="#0b93c9"/>
<rect x="496.30" y="192.00" width="9" height="9" fill="#0b93c9"/>
<rect x="532.03" y="159.07" width="9" height="9" fill="#0b93c9"/>
</g>
<path d="M465.07,233.50v3.5 M500.80,233.50v3.5 M536.53,233.50v3.5 M461.50,233.50h-3.5 M461.50,196.50h-3.5 M461.50,159.50h-3.5" stroke="#3a3a3a" stroke-width="0.9" fill="none"/>
<rect x="461.50" y="159.50" width="78.60" height="74.00" fill="none" stroke="#3a3a3a" stroke-width="0.9"/>
<text x="465.07" y="249.70" text-anchor="middle" font-size="14">7</text>
<text x="500.80" y="249.70" text-anchor="middle" font-size="14">8</text>
<text x="536.53" y="249.70" text-anchor="middle" font-size="14">9</text>
<text x="456.15" y="239.00" text-anchor="end" font-size="14" letter-spacing="0.8">10</text>
<text x="456.15" y="202.00" text-anchor="end" font-size="14" letter-spacing="0.8">20</text>
<text x="456.15" y="165.00" text-anchor="end" font-size="14" letter-spacing="0.8">30</text>
<text x="494.80" y="265.70" font-size="14.2" font-style="italic">L<tspan dy="2.4" font-size="10">z</tspan></text>
<text transform="translate(432.90,202.50) rotate(-90)" font-size="13.5" font-style="italic">r<tspan dx="1" dy="2.4" font-size="10" font-style="normal">0</tspan></text>
<rect x="112.50" y="478.40" width="79.00" height="74.80" fill="#fff" stroke="none"/>
<clipPath id="iclipc"><rect x="112.50" y="478.40" width="79.00" height="74.80"/></clipPath>
<g clip-path="url(#iclipc)">
<polyline points="116.09,545.88 152.00,517.36 187.91,482.65" fill="none" stroke="#0b93c9" stroke-width="1.6"/>
<rect x="111.59" y="541.38" width="9" height="9" fill="#0b93c9"/>
<rect x="147.50" y="512.86" width="9" height="9" fill="#0b93c9"/>
<rect x="183.41" y="478.15" width="9" height="9" fill="#0b93c9"/>
</g>
<path d="M116.09,553.20v3.5 M152.00,553.20v3.5 M187.91,553.20v3.5 M112.50,553.01h-3.5 M112.50,529.24h-3.5 M112.50,505.47h-3.5 M112.50,481.70h-3.5" stroke="#3a3a3a" stroke-width="0.9" fill="none"/>
<rect x="112.50" y="478.40" width="79.00" height="74.80" fill="none" stroke="#3a3a3a" stroke-width="0.9"/>
<text x="116.09" y="569.40" text-anchor="middle" font-size="14">7</text>
<text x="152.00" y="569.40" text-anchor="middle" font-size="14">8</text>
<text x="187.91" y="569.40" text-anchor="middle" font-size="14">9</text>
<text x="107.15" y="558.51" text-anchor="end" font-size="14" letter-spacing="0.8">10</text>
<text x="107.15" y="534.74" text-anchor="end" font-size="14" letter-spacing="0.8">20</text>
<text x="107.15" y="510.97" text-anchor="end" font-size="14" letter-spacing="0.8">30</text>
<text x="107.15" y="487.20" text-anchor="end" font-size="14" letter-spacing="0.8">40</text>
<text x="146.00" y="585.40" font-size="14.2" font-style="italic">L<tspan dy="2.4" font-size="10">z</tspan></text>
<text transform="translate(83.90,521.80) rotate(-90)" font-size="13.5" font-style="italic">r<tspan dx="1" dy="2.4" font-size="10" font-style="normal">0</tspan></text>
<rect x="461.50" y="478.40" width="78.60" height="74.80" fill="#fff" stroke="none"/>
<clipPath id="iclipd"><rect x="461.50" y="478.40" width="78.60" height="74.80"/></clipPath>
<g clip-path="url(#iclipd)">
<polyline points="465.07,549.42 500.80,534.59 536.53,484.97" fill="none" stroke="#0b93c9" stroke-width="1.6"/>
<rect x="460.57" y="544.92" width="9" height="9" fill="#0b93c9"/>
<rect x="496.30" y="530.09" width="9" height="9" fill="#0b93c9"/>
<rect x="532.03" y="480.47" width="9" height="9" fill="#0b93c9"/>
</g>
<path d="M465.07,553.20v3.5 M500.80,553.20v3.5 M536.53,553.20v3.5 M461.50,553.01h-3.5 M461.50,515.80h-3.5 M461.50,478.59h-3.5" stroke="#3a3a3a" stroke-width="0.9" fill="none"/>
<rect x="461.50" y="478.40" width="78.60" height="74.80" fill="none" stroke="#3a3a3a" stroke-width="0.9"/>
<text x="465.07" y="569.40" text-anchor="middle" font-size="14">7</text>
<text x="500.80" y="569.40" text-anchor="middle" font-size="14">8</text>
<text x="536.53" y="569.40" text-anchor="middle" font-size="14">9</text>
<text x="456.15" y="558.51" text-anchor="end" font-size="14" letter-spacing="0.8">6</text>
<text x="456.15" y="521.30" text-anchor="end" font-size="14" letter-spacing="0.8">12</text>
<text x="456.15" y="484.09" text-anchor="end" font-size="14" letter-spacing="0.8">18</text>
<text x="494.80" y="585.40" font-size="14.2" font-style="italic">L<tspan dy="2.4" font-size="10">z</tspan></text>
<text transform="translate(432.90,521.80) rotate(-90)" font-size="13.5" font-style="italic">r<tspan dx="1" dy="2.4" font-size="10" font-style="normal">0</tspan></text>
<path d="M561.50,69.30H573.90L567.70,81.70Z" fill="none" stroke="#1a8a1a" stroke-width="1.0" stroke-linejoin="miter"/>
<text x="595.9" y="80.60" font-size="16" font-style="italic">L</text>
<path d="M608.9,73.40H619.6M608.9,77.10H619.6" stroke="#000" stroke-width="1.4"/>
<text x="623.9" y="80.60" font-size="16.3" letter-spacing="1.1">64</text>
<rect x="561.50" y="92.20" width="12.40" height="12.40" fill="none" stroke="#ff1a1a" stroke-width="1.0"/>
<text x="595.9" y="103.50" font-size="16" font-style="italic">L</text>
<path d="M608.9,96.30H619.6M608.9,100.00H619.6" stroke="#000" stroke-width="1.4"/>
<text x="623.9" y="103.50" font-size="16.3" letter-spacing="1.1">128</text>
<circle cx="567.70" cy="121.90" r="6.20" fill="none" stroke="#000000" stroke-width="1.0"/>
<text x="595.9" y="127.00" font-size="16" font-style="italic">L</text>
<path d="M608.9,119.80H619.6M608.9,123.50H619.6" stroke="#000" stroke-width="1.4"/>
<text x="623.9" y="127.00" font-size="16.3" letter-spacing="1.1">256</text>
<text x="182.3" y="15.8" text-anchor="middle" font-size="16.6">non hierarchical</text>
<text x="544.4" y="15.3" text-anchor="middle" font-size="16.6">hierarchical</text>
<text x="174.70" y="49.20" font-size="16.5"><tspan font-style="italic">k</tspan>=1.5</text>
<text x="524.70" y="49.00" font-size="16.5"><tspan font-style="italic">k</tspan>=1.5</text>
<text x="175.50" y="364.90" font-size="16.5"><tspan font-style="italic">k</tspan>=4</text>
<text x="538.30" y="364.90" font-size="16.5"><tspan font-style="italic">k</tspan>=4</text>
<text x="6.7" y="30.3" font-size="20.5" font-weight="bold">a</text>
<text x="358.7" y="30.3" font-size="20.5" font-weight="bold">b</text>
<text x="7.8" y="351" font-size="20.5" font-weight="bold">c</text>
<text x="359.6" y="350.7" font-size="20.5" font-weight="bold">d</text></svg></body></html>
